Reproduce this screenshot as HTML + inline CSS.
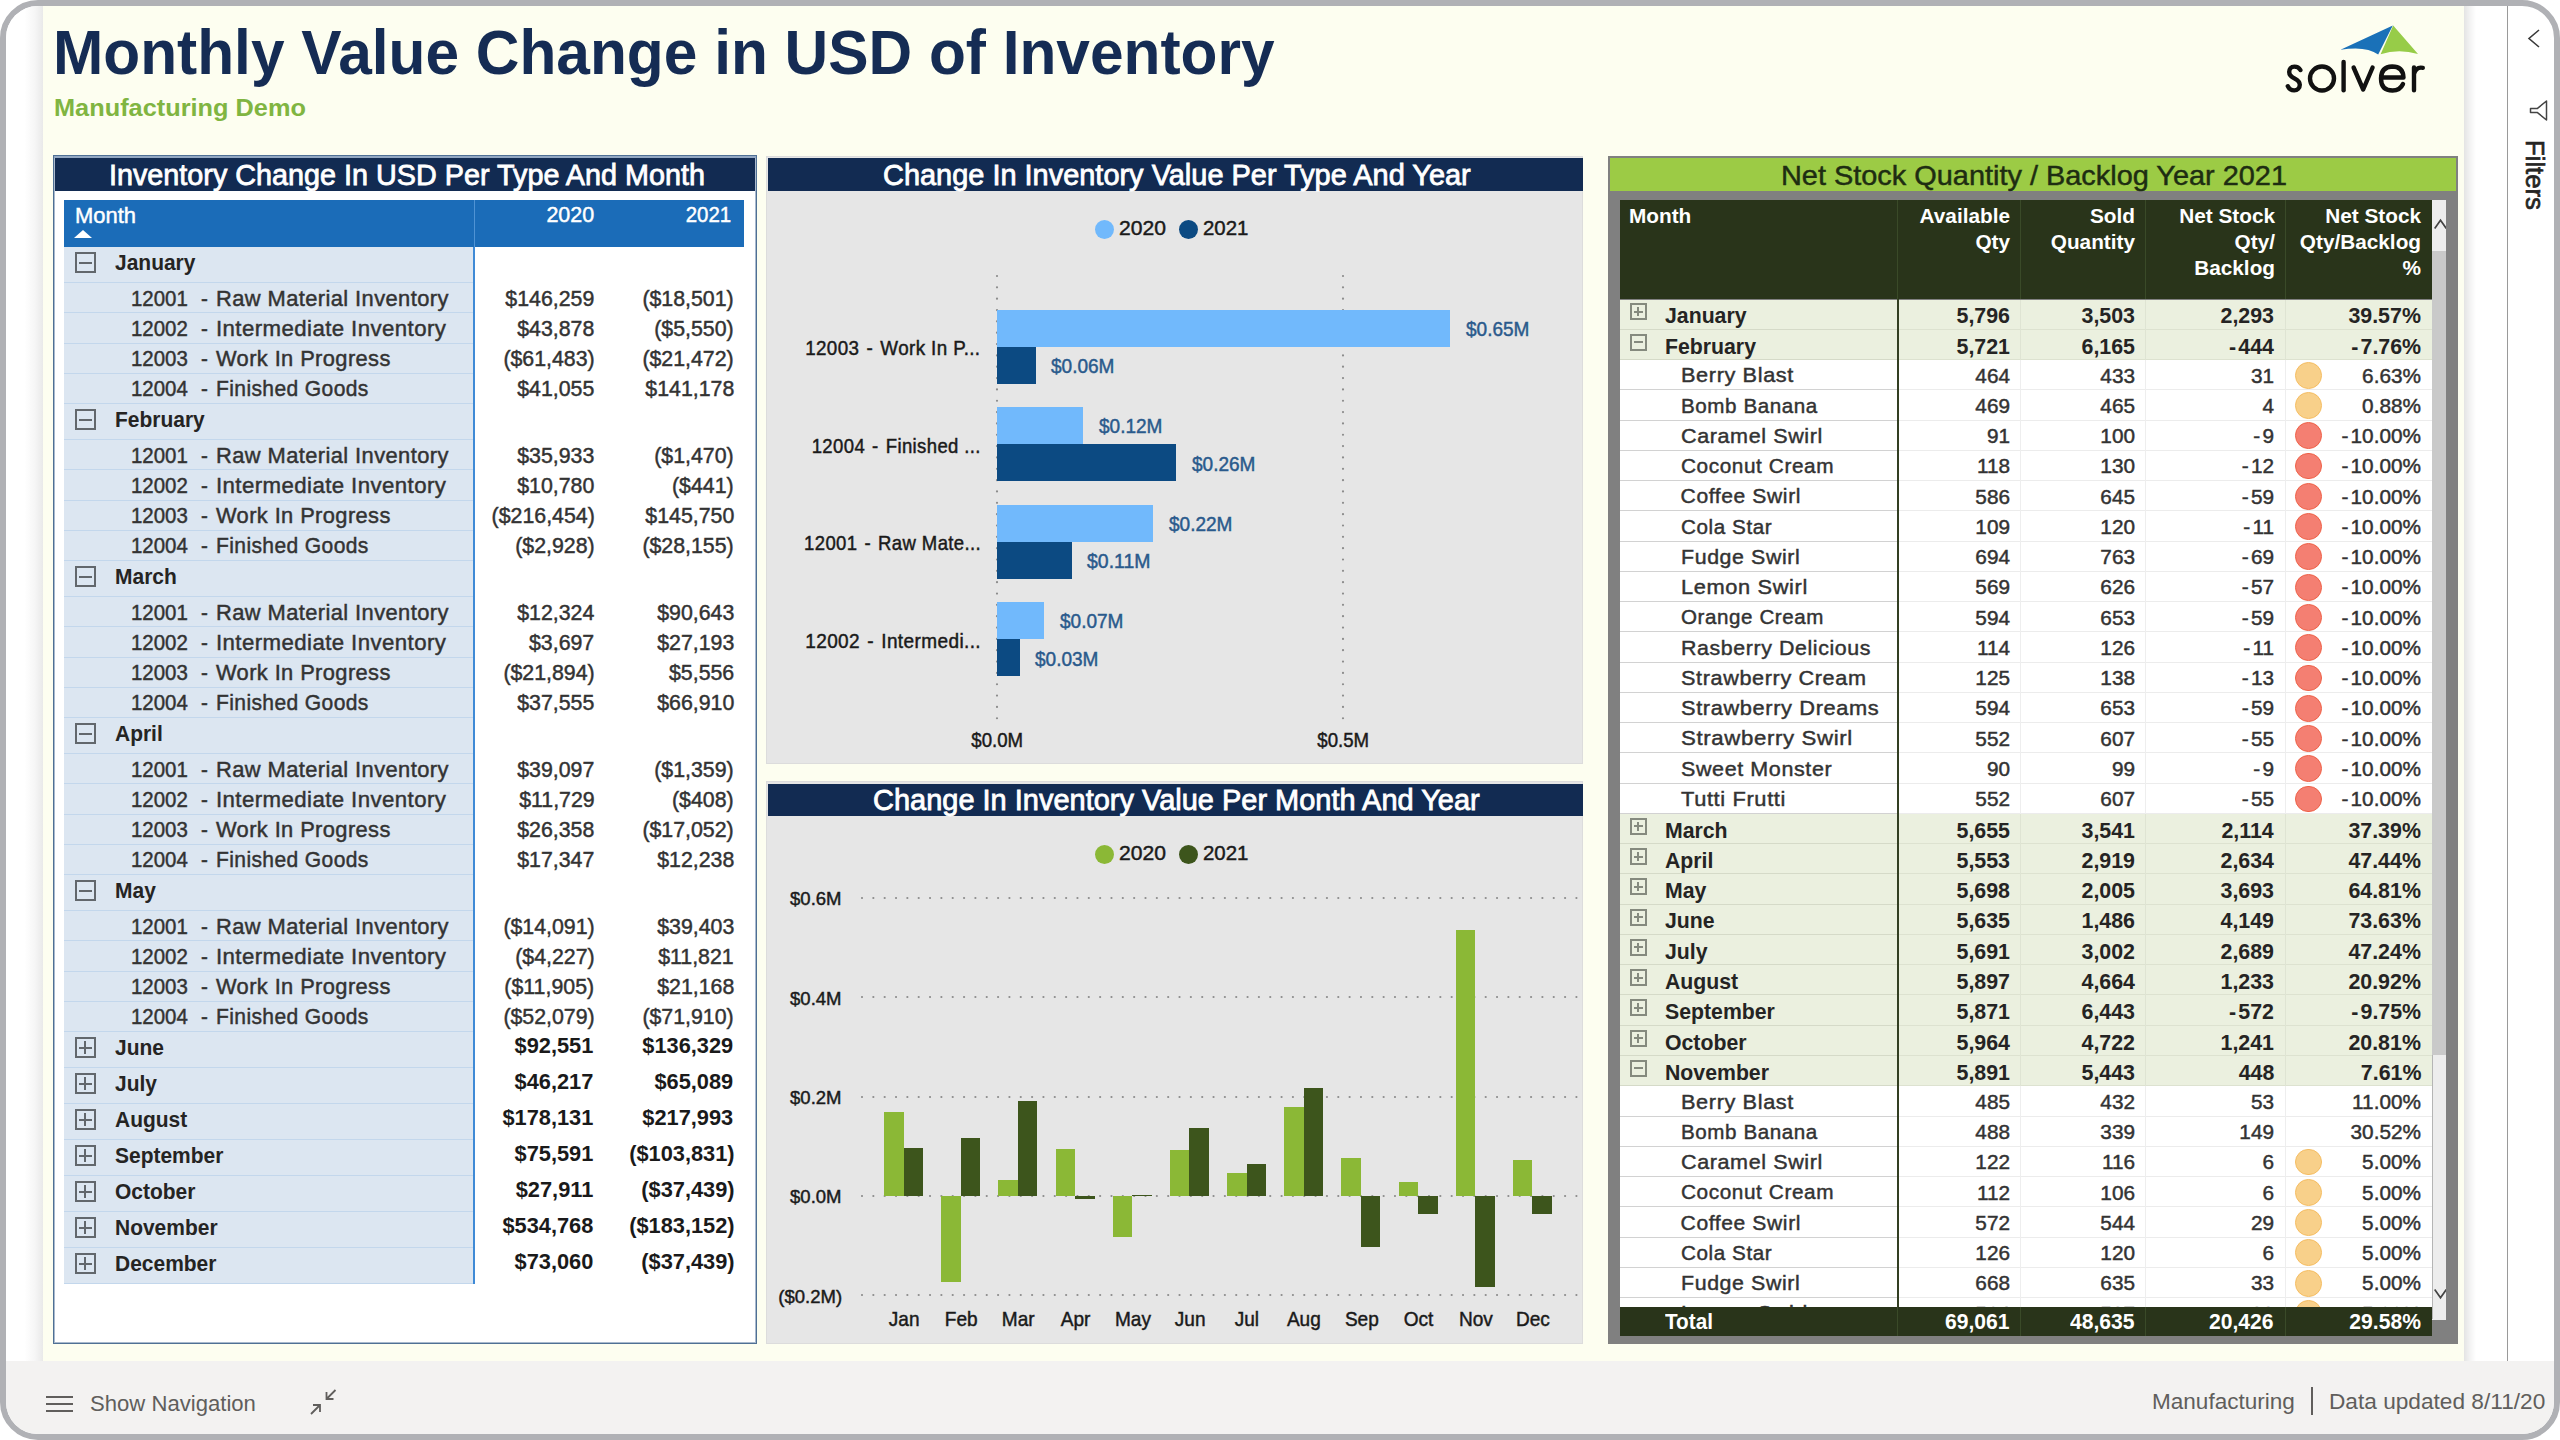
<!DOCTYPE html>
<html><head><meta charset="utf-8"><title>Monthly Value Change in USD of Inventory</title><style>html,body{margin:0;padding:0}
body{width:2560px;height:1440px;position:relative;overflow:hidden;background:#fff;font-family:"Liberation Sans",sans-serif}
#frame{position:absolute;left:0;top:0;width:2560px;height:1440px;box-sizing:border-box;border:6px solid #b0b1b5;border-radius:38px;overflow:hidden;background:#fff}
#c{position:absolute;left:-6px;top:-6px;width:2560px;height:1440px}
#c div,#c svg{position:absolute}
.t{white-space:nowrap;line-height:1}
</style></head><body><div id="frame"><div id="c">
<div style="left:43.00px;top:6.00px;width:2421.00px;height:1355.00px;background:#fdfef0;"></div>
<div style="left:6px;top:6px;width:37px;height:1355px;background:linear-gradient(90deg,#fff 0%,#fff 50%,#f6f6f6 78%,#e9e9e9 100%)"></div>
<div style="left:2464px;top:6px;width:12px;height:1355px;background:linear-gradient(90deg,#e4e4e4 0%,#f3f3f3 50%,#fff 100%)"></div>
<div style="left:2507.00px;top:6.00px;width:1.00px;height:1355.00px;background:#9a9a9a;"></div>
<div style="left:6.00px;top:1361.00px;width:2548.00px;height:73.00px;background:#f3f2f1;"></div>
<div class="t" style="top:21px;font-size:62.5px;color:#152c54;font-weight:bold;left:53.00px;transform:scaleX(0.9664);transform-origin:0 0;">Monthly Value Change in USD of Inventory</div>
<div class="t" style="top:97px;font-size:23.69px;color:#80b541;font-weight:bold;left:54.00px;transform:scaleX(1.0696);transform-origin:0 0;">Manufacturing Demo</div>
<div style="left:53px;top:155px;width:704px;height:1189px;background:#fff;border:1px solid #4f7094;box-sizing:border-box"></div>
<div style="left:54px;top:156px;width:702px;height:1187px;border:1px solid #a9b9cd;box-sizing:border-box"></div>
<div style="left:54.00px;top:156.00px;width:702.00px;height:2.00px;background:#93a8c3;"></div>
<div style="left:55.00px;top:158.00px;width:700.00px;height:32.60px;background:#122b52;"></div>
<div class="t" style="top:161px;font-size:28.78px;color:#fff;-webkit-text-stroke:0.8px #fff;left:109.00px;">Inventory Change In USD Per Type And Month</div>
<div style="left:64.00px;top:200.00px;width:679.50px;height:47.00px;background:#1b6cb8;"></div>
<div style="left:473.50px;top:200.00px;width:1.00px;height:47.00px;background:#4f93d4;"></div>
<div class="t" style="top:205px;font-size:21.66px;color:#fff;-webkit-text-stroke:0.45px #fff;left:74.50px;transform:scaleX(1.0133);transform-origin:0 0;">Month</div>
<div style="left:73.5px;top:230px;width:0;height:0;border-left:9px solid transparent;border-right:9px solid transparent;border-bottom:8.5px solid #fff"></div>
<div class="t" style="top:204px;font-size:21.66px;color:#fff;-webkit-text-stroke:0.45px #fff;right:1965.50px;transform:scaleX(0.9920);transform-origin:100% 0;">2020</div>
<div class="t" style="top:204px;font-size:21.66px;color:#fff;-webkit-text-stroke:0.45px #fff;right:1829.00px;transform:scaleX(0.9443);transform-origin:100% 0;">2021</div>
<div style="left:64.00px;top:247.00px;width:409.00px;height:1037.00px;background:#dce6f1;"></div>
<div style="left:472.50px;top:247.00px;width:2.00px;height:1037.00px;background:#3f8ad6;"></div>
<div style="left:64.00px;top:282.00px;width:408.50px;height:1.00px;background:#c3d7ec;"></div>
<div style="left:74.6px;top:252.0px;width:21.2px;height:21px;border:2px solid #62676c;box-sizing:border-box;"></div>
<div style="left:78.60px;top:261.50px;width:13.20px;height:2.00px;background:#62676c;"></div>
<div class="t" style="top:252px;font-size:21.8px;color:#252423;font-weight:bold;left:114.60px;transform:scaleX(0.9620);transform-origin:0 0;">January</div>
<div style="left:64.00px;top:312.25px;width:408.50px;height:1.00px;background:#c3d7ec;"></div>
<div class="t" style="top:288px;font-size:21.66px;color:#333;-webkit-text-stroke:0.45px #333;left:131.30px;transform:scaleX(0.9430);transform-origin:0 0;">12001</div>
<div class="t" style="top:288px;font-size:21.66px;color:#333;-webkit-text-stroke:0.45px #333;left:201.20px;transform:scaleX(0.9500);transform-origin:0 0;">-</div>
<div class="t" style="top:288px;font-size:21.66px;color:#333;-webkit-text-stroke:0.45px #333;letter-spacing:0.4px;left:216.20px;transform:scaleX(1.0109);transform-origin:0 0;">Raw Material Inventory</div>
<div class="t" style="top:288px;font-size:21.66px;color:#333;-webkit-text-stroke:0.45px #333;right:1965.70px;transform:scaleX(0.9850);transform-origin:100% 0;">$146,259</div>
<div class="t" style="top:288px;font-size:21.66px;color:#333;-webkit-text-stroke:0.45px #333;right:1826.00px;transform:scaleX(0.9850);transform-origin:100% 0;">($18,501)</div>
<div style="left:64.00px;top:342.50px;width:408.50px;height:1.00px;background:#c3d7ec;"></div>
<div class="t" style="top:318px;font-size:21.66px;color:#333;-webkit-text-stroke:0.45px #333;left:131.30px;transform:scaleX(0.9430);transform-origin:0 0;">12002</div>
<div class="t" style="top:318px;font-size:21.66px;color:#333;-webkit-text-stroke:0.45px #333;left:201.20px;transform:scaleX(0.9500);transform-origin:0 0;">-</div>
<div class="t" style="top:318px;font-size:21.66px;color:#333;-webkit-text-stroke:0.45px #333;letter-spacing:0.4px;left:216.20px;transform:scaleX(1.0267);transform-origin:0 0;">Intermediate Inventory</div>
<div class="t" style="top:318px;font-size:21.66px;color:#333;-webkit-text-stroke:0.45px #333;right:1965.70px;transform:scaleX(0.9850);transform-origin:100% 0;">$43,878</div>
<div class="t" style="top:318px;font-size:21.66px;color:#333;-webkit-text-stroke:0.45px #333;right:1826.00px;transform:scaleX(0.9850);transform-origin:100% 0;">($5,550)</div>
<div style="left:64.00px;top:372.75px;width:408.50px;height:1.00px;background:#c3d7ec;"></div>
<div class="t" style="top:348px;font-size:21.66px;color:#333;-webkit-text-stroke:0.45px #333;left:131.30px;transform:scaleX(0.9430);transform-origin:0 0;">12003</div>
<div class="t" style="top:348px;font-size:21.66px;color:#333;-webkit-text-stroke:0.45px #333;left:201.20px;transform:scaleX(0.9500);transform-origin:0 0;">-</div>
<div class="t" style="top:348px;font-size:21.66px;color:#333;-webkit-text-stroke:0.45px #333;letter-spacing:0.4px;left:216.20px;transform:scaleX(1.0086);transform-origin:0 0;">Work In Progress</div>
<div class="t" style="top:348px;font-size:21.66px;color:#333;-webkit-text-stroke:0.45px #333;right:1965.70px;transform:scaleX(0.9850);transform-origin:100% 0;">($61,483)</div>
<div class="t" style="top:348px;font-size:21.66px;color:#333;-webkit-text-stroke:0.45px #333;right:1826.00px;transform:scaleX(0.9850);transform-origin:100% 0;">($21,472)</div>
<div style="left:64.00px;top:403.00px;width:408.50px;height:1.00px;background:#c3d7ec;"></div>
<div class="t" style="top:378px;font-size:21.66px;color:#333;-webkit-text-stroke:0.45px #333;left:131.30px;transform:scaleX(0.9430);transform-origin:0 0;">12004</div>
<div class="t" style="top:378px;font-size:21.66px;color:#333;-webkit-text-stroke:0.45px #333;left:201.20px;transform:scaleX(0.9500);transform-origin:0 0;">-</div>
<div class="t" style="top:378px;font-size:21.66px;color:#333;-webkit-text-stroke:0.45px #333;letter-spacing:0.4px;left:216.20px;transform:scaleX(0.9714);transform-origin:0 0;">Finished Goods</div>
<div class="t" style="top:378px;font-size:21.66px;color:#333;-webkit-text-stroke:0.45px #333;right:1965.70px;transform:scaleX(0.9850);transform-origin:100% 0;">$41,055</div>
<div class="t" style="top:378px;font-size:21.66px;color:#333;-webkit-text-stroke:0.45px #333;right:1826.00px;transform:scaleX(0.9850);transform-origin:100% 0;">$141,178</div>
<div style="left:64.00px;top:439.00px;width:408.50px;height:1.00px;background:#c3d7ec;"></div>
<div style="left:74.6px;top:409.0px;width:21.2px;height:21px;border:2px solid #62676c;box-sizing:border-box;"></div>
<div style="left:78.60px;top:418.50px;width:13.20px;height:2.00px;background:#62676c;"></div>
<div class="t" style="top:409px;font-size:21.8px;color:#252423;font-weight:bold;left:114.60px;transform:scaleX(0.9620);transform-origin:0 0;">February</div>
<div style="left:64.00px;top:469.25px;width:408.50px;height:1.00px;background:#c3d7ec;"></div>
<div class="t" style="top:445px;font-size:21.66px;color:#333;-webkit-text-stroke:0.45px #333;left:131.30px;transform:scaleX(0.9430);transform-origin:0 0;">12001</div>
<div class="t" style="top:445px;font-size:21.66px;color:#333;-webkit-text-stroke:0.45px #333;left:201.20px;transform:scaleX(0.9500);transform-origin:0 0;">-</div>
<div class="t" style="top:445px;font-size:21.66px;color:#333;-webkit-text-stroke:0.45px #333;letter-spacing:0.4px;left:216.20px;transform:scaleX(1.0109);transform-origin:0 0;">Raw Material Inventory</div>
<div class="t" style="top:445px;font-size:21.66px;color:#333;-webkit-text-stroke:0.45px #333;right:1965.70px;transform:scaleX(0.9850);transform-origin:100% 0;">$35,933</div>
<div class="t" style="top:445px;font-size:21.66px;color:#333;-webkit-text-stroke:0.45px #333;right:1826.00px;transform:scaleX(0.9850);transform-origin:100% 0;">($1,470)</div>
<div style="left:64.00px;top:499.50px;width:408.50px;height:1.00px;background:#c3d7ec;"></div>
<div class="t" style="top:475px;font-size:21.66px;color:#333;-webkit-text-stroke:0.45px #333;left:131.30px;transform:scaleX(0.9430);transform-origin:0 0;">12002</div>
<div class="t" style="top:475px;font-size:21.66px;color:#333;-webkit-text-stroke:0.45px #333;left:201.20px;transform:scaleX(0.9500);transform-origin:0 0;">-</div>
<div class="t" style="top:475px;font-size:21.66px;color:#333;-webkit-text-stroke:0.45px #333;letter-spacing:0.4px;left:216.20px;transform:scaleX(1.0267);transform-origin:0 0;">Intermediate Inventory</div>
<div class="t" style="top:475px;font-size:21.66px;color:#333;-webkit-text-stroke:0.45px #333;right:1965.70px;transform:scaleX(0.9850);transform-origin:100% 0;">$10,780</div>
<div class="t" style="top:475px;font-size:21.66px;color:#333;-webkit-text-stroke:0.45px #333;right:1826.00px;transform:scaleX(0.9850);transform-origin:100% 0;">($441)</div>
<div style="left:64.00px;top:529.75px;width:408.50px;height:1.00px;background:#c3d7ec;"></div>
<div class="t" style="top:505px;font-size:21.66px;color:#333;-webkit-text-stroke:0.45px #333;left:131.30px;transform:scaleX(0.9430);transform-origin:0 0;">12003</div>
<div class="t" style="top:505px;font-size:21.66px;color:#333;-webkit-text-stroke:0.45px #333;left:201.20px;transform:scaleX(0.9500);transform-origin:0 0;">-</div>
<div class="t" style="top:505px;font-size:21.66px;color:#333;-webkit-text-stroke:0.45px #333;letter-spacing:0.4px;left:216.20px;transform:scaleX(1.0086);transform-origin:0 0;">Work In Progress</div>
<div class="t" style="top:505px;font-size:21.66px;color:#333;-webkit-text-stroke:0.45px #333;right:1965.70px;transform:scaleX(0.9850);transform-origin:100% 0;">($216,454)</div>
<div class="t" style="top:505px;font-size:21.66px;color:#333;-webkit-text-stroke:0.45px #333;right:1826.00px;transform:scaleX(0.9850);transform-origin:100% 0;">$145,750</div>
<div style="left:64.00px;top:560.00px;width:408.50px;height:1.00px;background:#c3d7ec;"></div>
<div class="t" style="top:535px;font-size:21.66px;color:#333;-webkit-text-stroke:0.45px #333;left:131.30px;transform:scaleX(0.9430);transform-origin:0 0;">12004</div>
<div class="t" style="top:535px;font-size:21.66px;color:#333;-webkit-text-stroke:0.45px #333;left:201.20px;transform:scaleX(0.9500);transform-origin:0 0;">-</div>
<div class="t" style="top:535px;font-size:21.66px;color:#333;-webkit-text-stroke:0.45px #333;letter-spacing:0.4px;left:216.20px;transform:scaleX(0.9714);transform-origin:0 0;">Finished Goods</div>
<div class="t" style="top:535px;font-size:21.66px;color:#333;-webkit-text-stroke:0.45px #333;right:1965.70px;transform:scaleX(0.9850);transform-origin:100% 0;">($2,928)</div>
<div class="t" style="top:535px;font-size:21.66px;color:#333;-webkit-text-stroke:0.45px #333;right:1826.00px;transform:scaleX(0.9850);transform-origin:100% 0;">($28,155)</div>
<div style="left:64.00px;top:596.00px;width:408.50px;height:1.00px;background:#c3d7ec;"></div>
<div style="left:74.6px;top:566.0px;width:21.2px;height:21px;border:2px solid #62676c;box-sizing:border-box;"></div>
<div style="left:78.60px;top:575.50px;width:13.20px;height:2.00px;background:#62676c;"></div>
<div class="t" style="top:566px;font-size:21.8px;color:#252423;font-weight:bold;left:114.60px;transform:scaleX(0.9620);transform-origin:0 0;">March</div>
<div style="left:64.00px;top:626.25px;width:408.50px;height:1.00px;background:#c3d7ec;"></div>
<div class="t" style="top:602px;font-size:21.66px;color:#333;-webkit-text-stroke:0.45px #333;left:131.30px;transform:scaleX(0.9430);transform-origin:0 0;">12001</div>
<div class="t" style="top:602px;font-size:21.66px;color:#333;-webkit-text-stroke:0.45px #333;left:201.20px;transform:scaleX(0.9500);transform-origin:0 0;">-</div>
<div class="t" style="top:602px;font-size:21.66px;color:#333;-webkit-text-stroke:0.45px #333;letter-spacing:0.4px;left:216.20px;transform:scaleX(1.0109);transform-origin:0 0;">Raw Material Inventory</div>
<div class="t" style="top:602px;font-size:21.66px;color:#333;-webkit-text-stroke:0.45px #333;right:1965.70px;transform:scaleX(0.9850);transform-origin:100% 0;">$12,324</div>
<div class="t" style="top:602px;font-size:21.66px;color:#333;-webkit-text-stroke:0.45px #333;right:1826.00px;transform:scaleX(0.9850);transform-origin:100% 0;">$90,643</div>
<div style="left:64.00px;top:656.50px;width:408.50px;height:1.00px;background:#c3d7ec;"></div>
<div class="t" style="top:632px;font-size:21.66px;color:#333;-webkit-text-stroke:0.45px #333;left:131.30px;transform:scaleX(0.9430);transform-origin:0 0;">12002</div>
<div class="t" style="top:632px;font-size:21.66px;color:#333;-webkit-text-stroke:0.45px #333;left:201.20px;transform:scaleX(0.9500);transform-origin:0 0;">-</div>
<div class="t" style="top:632px;font-size:21.66px;color:#333;-webkit-text-stroke:0.45px #333;letter-spacing:0.4px;left:216.20px;transform:scaleX(1.0267);transform-origin:0 0;">Intermediate Inventory</div>
<div class="t" style="top:632px;font-size:21.66px;color:#333;-webkit-text-stroke:0.45px #333;right:1965.70px;transform:scaleX(0.9850);transform-origin:100% 0;">$3,697</div>
<div class="t" style="top:632px;font-size:21.66px;color:#333;-webkit-text-stroke:0.45px #333;right:1826.00px;transform:scaleX(0.9850);transform-origin:100% 0;">$27,193</div>
<div style="left:64.00px;top:686.75px;width:408.50px;height:1.00px;background:#c3d7ec;"></div>
<div class="t" style="top:662px;font-size:21.66px;color:#333;-webkit-text-stroke:0.45px #333;left:131.30px;transform:scaleX(0.9430);transform-origin:0 0;">12003</div>
<div class="t" style="top:662px;font-size:21.66px;color:#333;-webkit-text-stroke:0.45px #333;left:201.20px;transform:scaleX(0.9500);transform-origin:0 0;">-</div>
<div class="t" style="top:662px;font-size:21.66px;color:#333;-webkit-text-stroke:0.45px #333;letter-spacing:0.4px;left:216.20px;transform:scaleX(1.0086);transform-origin:0 0;">Work In Progress</div>
<div class="t" style="top:662px;font-size:21.66px;color:#333;-webkit-text-stroke:0.45px #333;right:1965.70px;transform:scaleX(0.9850);transform-origin:100% 0;">($21,894)</div>
<div class="t" style="top:662px;font-size:21.66px;color:#333;-webkit-text-stroke:0.45px #333;right:1826.00px;transform:scaleX(0.9850);transform-origin:100% 0;">$5,556</div>
<div style="left:64.00px;top:717.00px;width:408.50px;height:1.00px;background:#c3d7ec;"></div>
<div class="t" style="top:692px;font-size:21.66px;color:#333;-webkit-text-stroke:0.45px #333;left:131.30px;transform:scaleX(0.9430);transform-origin:0 0;">12004</div>
<div class="t" style="top:692px;font-size:21.66px;color:#333;-webkit-text-stroke:0.45px #333;left:201.20px;transform:scaleX(0.9500);transform-origin:0 0;">-</div>
<div class="t" style="top:692px;font-size:21.66px;color:#333;-webkit-text-stroke:0.45px #333;letter-spacing:0.4px;left:216.20px;transform:scaleX(0.9714);transform-origin:0 0;">Finished Goods</div>
<div class="t" style="top:692px;font-size:21.66px;color:#333;-webkit-text-stroke:0.45px #333;right:1965.70px;transform:scaleX(0.9850);transform-origin:100% 0;">$37,555</div>
<div class="t" style="top:692px;font-size:21.66px;color:#333;-webkit-text-stroke:0.45px #333;right:1826.00px;transform:scaleX(0.9850);transform-origin:100% 0;">$66,910</div>
<div style="left:64.00px;top:753.00px;width:408.50px;height:1.00px;background:#c3d7ec;"></div>
<div style="left:74.6px;top:723.0px;width:21.2px;height:21px;border:2px solid #62676c;box-sizing:border-box;"></div>
<div style="left:78.60px;top:732.50px;width:13.20px;height:2.00px;background:#62676c;"></div>
<div class="t" style="top:723px;font-size:21.8px;color:#252423;font-weight:bold;left:114.60px;transform:scaleX(0.9620);transform-origin:0 0;">April</div>
<div style="left:64.00px;top:783.25px;width:408.50px;height:1.00px;background:#c3d7ec;"></div>
<div class="t" style="top:759px;font-size:21.66px;color:#333;-webkit-text-stroke:0.45px #333;left:131.30px;transform:scaleX(0.9430);transform-origin:0 0;">12001</div>
<div class="t" style="top:759px;font-size:21.66px;color:#333;-webkit-text-stroke:0.45px #333;left:201.20px;transform:scaleX(0.9500);transform-origin:0 0;">-</div>
<div class="t" style="top:759px;font-size:21.66px;color:#333;-webkit-text-stroke:0.45px #333;letter-spacing:0.4px;left:216.20px;transform:scaleX(1.0109);transform-origin:0 0;">Raw Material Inventory</div>
<div class="t" style="top:759px;font-size:21.66px;color:#333;-webkit-text-stroke:0.45px #333;right:1965.70px;transform:scaleX(0.9850);transform-origin:100% 0;">$39,097</div>
<div class="t" style="top:759px;font-size:21.66px;color:#333;-webkit-text-stroke:0.45px #333;right:1826.00px;transform:scaleX(0.9850);transform-origin:100% 0;">($1,359)</div>
<div style="left:64.00px;top:813.50px;width:408.50px;height:1.00px;background:#c3d7ec;"></div>
<div class="t" style="top:789px;font-size:21.66px;color:#333;-webkit-text-stroke:0.45px #333;left:131.30px;transform:scaleX(0.9430);transform-origin:0 0;">12002</div>
<div class="t" style="top:789px;font-size:21.66px;color:#333;-webkit-text-stroke:0.45px #333;left:201.20px;transform:scaleX(0.9500);transform-origin:0 0;">-</div>
<div class="t" style="top:789px;font-size:21.66px;color:#333;-webkit-text-stroke:0.45px #333;letter-spacing:0.4px;left:216.20px;transform:scaleX(1.0267);transform-origin:0 0;">Intermediate Inventory</div>
<div class="t" style="top:789px;font-size:21.66px;color:#333;-webkit-text-stroke:0.45px #333;right:1965.70px;transform:scaleX(0.9850);transform-origin:100% 0;">$11,729</div>
<div class="t" style="top:789px;font-size:21.66px;color:#333;-webkit-text-stroke:0.45px #333;right:1826.00px;transform:scaleX(0.9850);transform-origin:100% 0;">($408)</div>
<div style="left:64.00px;top:843.75px;width:408.50px;height:1.00px;background:#c3d7ec;"></div>
<div class="t" style="top:819px;font-size:21.66px;color:#333;-webkit-text-stroke:0.45px #333;left:131.30px;transform:scaleX(0.9430);transform-origin:0 0;">12003</div>
<div class="t" style="top:819px;font-size:21.66px;color:#333;-webkit-text-stroke:0.45px #333;left:201.20px;transform:scaleX(0.9500);transform-origin:0 0;">-</div>
<div class="t" style="top:819px;font-size:21.66px;color:#333;-webkit-text-stroke:0.45px #333;letter-spacing:0.4px;left:216.20px;transform:scaleX(1.0086);transform-origin:0 0;">Work In Progress</div>
<div class="t" style="top:819px;font-size:21.66px;color:#333;-webkit-text-stroke:0.45px #333;right:1965.70px;transform:scaleX(0.9850);transform-origin:100% 0;">$26,358</div>
<div class="t" style="top:819px;font-size:21.66px;color:#333;-webkit-text-stroke:0.45px #333;right:1826.00px;transform:scaleX(0.9850);transform-origin:100% 0;">($17,052)</div>
<div style="left:64.00px;top:874.00px;width:408.50px;height:1.00px;background:#c3d7ec;"></div>
<div class="t" style="top:849px;font-size:21.66px;color:#333;-webkit-text-stroke:0.45px #333;left:131.30px;transform:scaleX(0.9430);transform-origin:0 0;">12004</div>
<div class="t" style="top:849px;font-size:21.66px;color:#333;-webkit-text-stroke:0.45px #333;left:201.20px;transform:scaleX(0.9500);transform-origin:0 0;">-</div>
<div class="t" style="top:849px;font-size:21.66px;color:#333;-webkit-text-stroke:0.45px #333;letter-spacing:0.4px;left:216.20px;transform:scaleX(0.9714);transform-origin:0 0;">Finished Goods</div>
<div class="t" style="top:849px;font-size:21.66px;color:#333;-webkit-text-stroke:0.45px #333;right:1965.70px;transform:scaleX(0.9850);transform-origin:100% 0;">$17,347</div>
<div class="t" style="top:849px;font-size:21.66px;color:#333;-webkit-text-stroke:0.45px #333;right:1826.00px;transform:scaleX(0.9850);transform-origin:100% 0;">$12,238</div>
<div style="left:64.00px;top:910.00px;width:408.50px;height:1.00px;background:#c3d7ec;"></div>
<div style="left:74.6px;top:880.0px;width:21.2px;height:21px;border:2px solid #62676c;box-sizing:border-box;"></div>
<div style="left:78.60px;top:889.50px;width:13.20px;height:2.00px;background:#62676c;"></div>
<div class="t" style="top:880px;font-size:21.8px;color:#252423;font-weight:bold;left:114.60px;transform:scaleX(0.9620);transform-origin:0 0;">May</div>
<div style="left:64.00px;top:940.25px;width:408.50px;height:1.00px;background:#c3d7ec;"></div>
<div class="t" style="top:916px;font-size:21.66px;color:#333;-webkit-text-stroke:0.45px #333;left:131.30px;transform:scaleX(0.9430);transform-origin:0 0;">12001</div>
<div class="t" style="top:916px;font-size:21.66px;color:#333;-webkit-text-stroke:0.45px #333;left:201.20px;transform:scaleX(0.9500);transform-origin:0 0;">-</div>
<div class="t" style="top:916px;font-size:21.66px;color:#333;-webkit-text-stroke:0.45px #333;letter-spacing:0.4px;left:216.20px;transform:scaleX(1.0109);transform-origin:0 0;">Raw Material Inventory</div>
<div class="t" style="top:916px;font-size:21.66px;color:#333;-webkit-text-stroke:0.45px #333;right:1965.70px;transform:scaleX(0.9850);transform-origin:100% 0;">($14,091)</div>
<div class="t" style="top:916px;font-size:21.66px;color:#333;-webkit-text-stroke:0.45px #333;right:1826.00px;transform:scaleX(0.9850);transform-origin:100% 0;">$39,403</div>
<div style="left:64.00px;top:970.50px;width:408.50px;height:1.00px;background:#c3d7ec;"></div>
<div class="t" style="top:946px;font-size:21.66px;color:#333;-webkit-text-stroke:0.45px #333;left:131.30px;transform:scaleX(0.9430);transform-origin:0 0;">12002</div>
<div class="t" style="top:946px;font-size:21.66px;color:#333;-webkit-text-stroke:0.45px #333;left:201.20px;transform:scaleX(0.9500);transform-origin:0 0;">-</div>
<div class="t" style="top:946px;font-size:21.66px;color:#333;-webkit-text-stroke:0.45px #333;letter-spacing:0.4px;left:216.20px;transform:scaleX(1.0267);transform-origin:0 0;">Intermediate Inventory</div>
<div class="t" style="top:946px;font-size:21.66px;color:#333;-webkit-text-stroke:0.45px #333;right:1965.70px;transform:scaleX(0.9850);transform-origin:100% 0;">($4,227)</div>
<div class="t" style="top:946px;font-size:21.66px;color:#333;-webkit-text-stroke:0.45px #333;right:1826.00px;transform:scaleX(0.9850);transform-origin:100% 0;">$11,821</div>
<div style="left:64.00px;top:1000.75px;width:408.50px;height:1.00px;background:#c3d7ec;"></div>
<div class="t" style="top:976px;font-size:21.66px;color:#333;-webkit-text-stroke:0.45px #333;left:131.30px;transform:scaleX(0.9430);transform-origin:0 0;">12003</div>
<div class="t" style="top:976px;font-size:21.66px;color:#333;-webkit-text-stroke:0.45px #333;left:201.20px;transform:scaleX(0.9500);transform-origin:0 0;">-</div>
<div class="t" style="top:976px;font-size:21.66px;color:#333;-webkit-text-stroke:0.45px #333;letter-spacing:0.4px;left:216.20px;transform:scaleX(1.0086);transform-origin:0 0;">Work In Progress</div>
<div class="t" style="top:976px;font-size:21.66px;color:#333;-webkit-text-stroke:0.45px #333;right:1965.70px;transform:scaleX(0.9850);transform-origin:100% 0;">($11,905)</div>
<div class="t" style="top:976px;font-size:21.66px;color:#333;-webkit-text-stroke:0.45px #333;right:1826.00px;transform:scaleX(0.9850);transform-origin:100% 0;">$21,168</div>
<div style="left:64.00px;top:1031.00px;width:408.50px;height:1.00px;background:#c3d7ec;"></div>
<div class="t" style="top:1006px;font-size:21.66px;color:#333;-webkit-text-stroke:0.45px #333;left:131.30px;transform:scaleX(0.9430);transform-origin:0 0;">12004</div>
<div class="t" style="top:1006px;font-size:21.66px;color:#333;-webkit-text-stroke:0.45px #333;left:201.20px;transform:scaleX(0.9500);transform-origin:0 0;">-</div>
<div class="t" style="top:1006px;font-size:21.66px;color:#333;-webkit-text-stroke:0.45px #333;letter-spacing:0.4px;left:216.20px;transform:scaleX(0.9714);transform-origin:0 0;">Finished Goods</div>
<div class="t" style="top:1006px;font-size:21.66px;color:#333;-webkit-text-stroke:0.45px #333;right:1965.70px;transform:scaleX(0.9850);transform-origin:100% 0;">($52,079)</div>
<div class="t" style="top:1006px;font-size:21.66px;color:#333;-webkit-text-stroke:0.45px #333;right:1826.00px;transform:scaleX(0.9850);transform-origin:100% 0;">($71,910)</div>
<div style="left:64.00px;top:1067.00px;width:408.50px;height:1.00px;background:#c3d7ec;"></div>
<div style="left:74.6px;top:1037.0px;width:21.2px;height:21px;border:2px solid #62676c;box-sizing:border-box;"></div>
<div style="left:78.60px;top:1046.50px;width:13.20px;height:2.00px;background:#62676c;"></div>
<div style="left:84.20px;top:1040.90px;width:2.00px;height:13.20px;background:#62676c;"></div>
<div class="t" style="top:1037px;font-size:21.8px;color:#252423;font-weight:bold;left:114.60px;transform:scaleX(0.9620);transform-origin:0 0;">June</div>
<div class="t" style="top:1035px;font-size:21.8px;color:#1a1a1a;font-weight:bold;right:1966.70px;">$92,551</div>
<div class="t" style="top:1035px;font-size:21.8px;color:#1a1a1a;font-weight:bold;right:1826.80px;">$136,329</div>
<div style="left:64.00px;top:1103.00px;width:408.50px;height:1.00px;background:#c3d7ec;"></div>
<div style="left:74.6px;top:1073.0px;width:21.2px;height:21px;border:2px solid #62676c;box-sizing:border-box;"></div>
<div style="left:78.60px;top:1082.50px;width:13.20px;height:2.00px;background:#62676c;"></div>
<div style="left:84.20px;top:1076.90px;width:2.00px;height:13.20px;background:#62676c;"></div>
<div class="t" style="top:1073px;font-size:21.8px;color:#252423;font-weight:bold;left:114.60px;transform:scaleX(0.9620);transform-origin:0 0;">July</div>
<div class="t" style="top:1071px;font-size:21.8px;color:#1a1a1a;font-weight:bold;right:1966.70px;">$46,217</div>
<div class="t" style="top:1071px;font-size:21.8px;color:#1a1a1a;font-weight:bold;right:1826.80px;">$65,089</div>
<div style="left:64.00px;top:1139.00px;width:408.50px;height:1.00px;background:#c3d7ec;"></div>
<div style="left:74.6px;top:1109.0px;width:21.2px;height:21px;border:2px solid #62676c;box-sizing:border-box;"></div>
<div style="left:78.60px;top:1118.50px;width:13.20px;height:2.00px;background:#62676c;"></div>
<div style="left:84.20px;top:1112.90px;width:2.00px;height:13.20px;background:#62676c;"></div>
<div class="t" style="top:1109px;font-size:21.8px;color:#252423;font-weight:bold;left:114.60px;transform:scaleX(0.9620);transform-origin:0 0;">August</div>
<div class="t" style="top:1107px;font-size:21.8px;color:#1a1a1a;font-weight:bold;right:1966.70px;">$178,131</div>
<div class="t" style="top:1107px;font-size:21.8px;color:#1a1a1a;font-weight:bold;right:1826.80px;">$217,993</div>
<div style="left:64.00px;top:1175.00px;width:408.50px;height:1.00px;background:#c3d7ec;"></div>
<div style="left:74.6px;top:1145.0px;width:21.2px;height:21px;border:2px solid #62676c;box-sizing:border-box;"></div>
<div style="left:78.60px;top:1154.50px;width:13.20px;height:2.00px;background:#62676c;"></div>
<div style="left:84.20px;top:1148.90px;width:2.00px;height:13.20px;background:#62676c;"></div>
<div class="t" style="top:1145px;font-size:21.8px;color:#252423;font-weight:bold;left:114.60px;transform:scaleX(0.9620);transform-origin:0 0;">September</div>
<div class="t" style="top:1143px;font-size:21.8px;color:#1a1a1a;font-weight:bold;right:1966.70px;">$75,591</div>
<div class="t" style="top:1143px;font-size:21.8px;color:#1a1a1a;font-weight:bold;right:1825.40px;">($103,831)</div>
<div style="left:64.00px;top:1211.00px;width:408.50px;height:1.00px;background:#c3d7ec;"></div>
<div style="left:74.6px;top:1181.0px;width:21.2px;height:21px;border:2px solid #62676c;box-sizing:border-box;"></div>
<div style="left:78.60px;top:1190.50px;width:13.20px;height:2.00px;background:#62676c;"></div>
<div style="left:84.20px;top:1184.90px;width:2.00px;height:13.20px;background:#62676c;"></div>
<div class="t" style="top:1181px;font-size:21.8px;color:#252423;font-weight:bold;left:114.60px;transform:scaleX(0.9620);transform-origin:0 0;">October</div>
<div class="t" style="top:1179px;font-size:21.8px;color:#1a1a1a;font-weight:bold;right:1966.70px;">$27,911</div>
<div class="t" style="top:1179px;font-size:21.8px;color:#1a1a1a;font-weight:bold;right:1825.40px;">($37,439)</div>
<div style="left:64.00px;top:1247.00px;width:408.50px;height:1.00px;background:#c3d7ec;"></div>
<div style="left:74.6px;top:1217.0px;width:21.2px;height:21px;border:2px solid #62676c;box-sizing:border-box;"></div>
<div style="left:78.60px;top:1226.50px;width:13.20px;height:2.00px;background:#62676c;"></div>
<div style="left:84.20px;top:1220.90px;width:2.00px;height:13.20px;background:#62676c;"></div>
<div class="t" style="top:1217px;font-size:21.8px;color:#252423;font-weight:bold;left:114.60px;transform:scaleX(0.9620);transform-origin:0 0;">November</div>
<div class="t" style="top:1215px;font-size:21.8px;color:#1a1a1a;font-weight:bold;right:1966.70px;">$534,768</div>
<div class="t" style="top:1215px;font-size:21.8px;color:#1a1a1a;font-weight:bold;right:1825.40px;">($183,152)</div>
<div style="left:64.00px;top:1283.00px;width:408.50px;height:1.00px;background:#c3d7ec;"></div>
<div style="left:74.6px;top:1253.0px;width:21.2px;height:21px;border:2px solid #62676c;box-sizing:border-box;"></div>
<div style="left:78.60px;top:1262.50px;width:13.20px;height:2.00px;background:#62676c;"></div>
<div style="left:84.20px;top:1256.90px;width:2.00px;height:13.20px;background:#62676c;"></div>
<div class="t" style="top:1253px;font-size:21.8px;color:#252423;font-weight:bold;left:114.60px;transform:scaleX(0.9620);transform-origin:0 0;">December</div>
<div class="t" style="top:1251px;font-size:21.8px;color:#1a1a1a;font-weight:bold;right:1966.70px;">$73,060</div>
<div class="t" style="top:1251px;font-size:21.8px;color:#1a1a1a;font-weight:bold;right:1825.40px;">($37,439)</div>
<div style="left:766px;top:156px;width:816.5px;height:607.5px;background:#e6e6e6;border:1px solid #dcdcdc;box-sizing:border-box"></div>
<div style="left:768.00px;top:158.00px;width:814.50px;height:32.50px;background:#122b52;"></div>
<div class="t" style="top:161px;font-size:28.78px;color:#fff;-webkit-text-stroke:0.8px #fff;left:882.50px;transform:scaleX(1.0059);transform-origin:0 0;">Change In Inventory Value Per Type And Year</div>
<div style="left:1094.50px;top:219.50px;width:19px;height:19px;border-radius:50%;background:#71b9fc;"></div>
<div class="t" style="top:218px;font-size:20.93px;color:#1a1a1a;-webkit-text-stroke:0.45px #1a1a1a;left:1118.50px;transform:scaleX(1.0094);transform-origin:0 0;">2020</div>
<div style="left:1178.50px;top:219.50px;width:19px;height:19px;border-radius:50%;background:#0c4a82;"></div>
<div class="t" style="top:218px;font-size:20.93px;color:#1a1a1a;-webkit-text-stroke:0.45px #1a1a1a;left:1203.00px;transform:scaleX(0.9772);transform-origin:0 0;">2021</div>
<svg style="left:995.3px;top:273.6px" width="4" height="446.4"><line x1="2" y1="2" x2="2" y2="444.4" stroke="#8c8c8c" stroke-width="2.2" stroke-dasharray="0.01 11.33" stroke-linecap="round"/></svg>
<svg style="left:1341.2px;top:273.6px" width="4" height="446.4"><line x1="2" y1="2" x2="2" y2="444.4" stroke="#8c8c8c" stroke-width="2.2" stroke-dasharray="0.01 11.33" stroke-linecap="round"/></svg>
<div style="left:997.00px;top:309.75px;width:453.00px;height:37.10px;background:#71b9fc;"></div>
<div style="left:997.00px;top:346.85px;width:38.60px;height:37.15px;background:#0c4a82;"></div>
<div class="t" style="top:320px;font-size:19.62px;color:#2a5a8c;-webkit-text-stroke:0.45px #2a5a8c;left:1466.00px;transform:scaleX(0.9703);transform-origin:0 0;">$0.65M</div>
<div class="t" style="top:357px;font-size:19.62px;color:#2a5a8c;-webkit-text-stroke:0.45px #2a5a8c;left:1051.10px;transform:scaleX(0.9703);transform-origin:0 0;">$0.06M</div>
<div class="t" style="top:339px;font-size:19.48px;color:#1a1a1a;-webkit-text-stroke:0.45px #1a1a1a;letter-spacing:0.4px;right:1579.11px;transform:scaleX(0.9660);transform-origin:100% 0;">12003 <span style="padding:0 1.6px">-</span> Work In P...</div>
<div style="left:997.00px;top:407.25px;width:85.50px;height:37.10px;background:#71b9fc;"></div>
<div style="left:997.00px;top:444.35px;width:179.00px;height:37.15px;background:#0c4a82;"></div>
<div class="t" style="top:417px;font-size:19.62px;color:#2a5a8c;-webkit-text-stroke:0.45px #2a5a8c;left:1098.50px;transform:scaleX(0.9703);transform-origin:0 0;">$0.12M</div>
<div class="t" style="top:455px;font-size:19.62px;color:#2a5a8c;-webkit-text-stroke:0.45px #2a5a8c;left:1191.50px;transform:scaleX(0.9703);transform-origin:0 0;">$0.26M</div>
<div class="t" style="top:437px;font-size:19.48px;color:#1a1a1a;-webkit-text-stroke:0.45px #1a1a1a;letter-spacing:0.4px;right:1579.12px;transform:scaleX(0.9513);transform-origin:100% 0;">12004 <span style="padding:0 1.6px">-</span> Finished ...</div>
<div style="left:997.00px;top:504.75px;width:155.80px;height:37.10px;background:#71b9fc;"></div>
<div style="left:997.00px;top:541.85px;width:74.70px;height:37.15px;background:#0c4a82;"></div>
<div class="t" style="top:515px;font-size:19.62px;color:#2a5a8c;-webkit-text-stroke:0.45px #2a5a8c;left:1168.80px;transform:scaleX(0.9703);transform-origin:0 0;">$0.22M</div>
<div class="t" style="top:552px;font-size:19.62px;color:#2a5a8c;-webkit-text-stroke:0.45px #2a5a8c;left:1087.20px;transform:scaleX(0.9924);transform-origin:0 0;">$0.11M</div>
<div class="t" style="top:534px;font-size:19.48px;color:#1a1a1a;-webkit-text-stroke:0.45px #1a1a1a;letter-spacing:0.4px;right:1579.12px;transform:scaleX(0.9516);transform-origin:100% 0;">12001 <span style="padding:0 1.6px">-</span> Raw Mate...</div>
<div style="left:997.00px;top:602.25px;width:46.70px;height:37.10px;background:#71b9fc;"></div>
<div style="left:997.00px;top:639.35px;width:22.60px;height:37.15px;background:#0c4a82;"></div>
<div class="t" style="top:612px;font-size:19.62px;color:#2a5a8c;-webkit-text-stroke:0.45px #2a5a8c;left:1059.70px;transform:scaleX(0.9703);transform-origin:0 0;">$0.07M</div>
<div class="t" style="top:650px;font-size:19.62px;color:#2a5a8c;-webkit-text-stroke:0.45px #2a5a8c;left:1035.10px;transform:scaleX(0.9703);transform-origin:0 0;">$0.03M</div>
<div class="t" style="top:632px;font-size:19.48px;color:#1a1a1a;-webkit-text-stroke:0.45px #1a1a1a;letter-spacing:0.4px;right:1579.11px;transform:scaleX(0.9766);transform-origin:100% 0;">12002 <span style="padding:0 1.6px">-</span> Intermedi...</div>
<div class="t" style="top:731px;font-size:19.62px;color:#1a1a1a;-webkit-text-stroke:0.45px #1a1a1a;left:970.03px;transform:scaleX(0.9500);transform-origin:50% 0;">$0.0M</div>
<div class="t" style="top:731px;font-size:19.62px;color:#1a1a1a;-webkit-text-stroke:0.45px #1a1a1a;left:1315.93px;transform:scaleX(0.9500);transform-origin:50% 0;">$0.5M</div>
<div style="left:766px;top:781px;width:816.5px;height:562.5px;background:#e6e6e6;border:1px solid #dcdcdc;box-sizing:border-box"></div>
<div style="left:768.00px;top:783.50px;width:814.50px;height:32.50px;background:#122b52;"></div>
<div class="t" style="top:786px;font-size:28.78px;color:#fff;-webkit-text-stroke:0.8px #fff;left:873.00px;transform:scaleX(1.0072);transform-origin:0 0;">Change In Inventory Value Per Month And Year</div>
<div style="left:1094.50px;top:845.20px;width:19px;height:19px;border-radius:50%;background:#8bb836;"></div>
<div class="t" style="top:843px;font-size:20.93px;color:#1a1a1a;-webkit-text-stroke:0.45px #1a1a1a;left:1118.50px;transform:scaleX(1.0094);transform-origin:0 0;">2020</div>
<div style="left:1178.50px;top:845.20px;width:19px;height:19px;border-radius:50%;background:#3d551c;"></div>
<div class="t" style="top:843px;font-size:20.93px;color:#1a1a1a;-webkit-text-stroke:0.45px #1a1a1a;left:1203.00px;transform:scaleX(0.9772);transform-origin:0 0;">2021</div>
<svg style="left:860px;top:895.9px" width="720" height="4"><line x1="2" y1="2" x2="718" y2="2" stroke="#8c8c8c" stroke-width="2.2" stroke-dasharray="0.01 11.33" stroke-linecap="round"/></svg>
<div class="t" style="top:890px;font-size:18.9px;color:#1a1a1a;-webkit-text-stroke:0.45px #1a1a1a;right:1718.00px;transform:scaleX(0.9800);transform-origin:100% 0;">$0.6M</div>
<svg style="left:860px;top:995.23px" width="720" height="4"><line x1="2" y1="2" x2="718" y2="2" stroke="#8c8c8c" stroke-width="2.2" stroke-dasharray="0.01 11.33" stroke-linecap="round"/></svg>
<div class="t" style="top:990px;font-size:18.9px;color:#1a1a1a;-webkit-text-stroke:0.45px #1a1a1a;right:1718.00px;transform:scaleX(0.9800);transform-origin:100% 0;">$0.4M</div>
<svg style="left:860px;top:1094.56px" width="720" height="4"><line x1="2" y1="2" x2="718" y2="2" stroke="#8c8c8c" stroke-width="2.2" stroke-dasharray="0.01 11.33" stroke-linecap="round"/></svg>
<div class="t" style="top:1089px;font-size:18.9px;color:#1a1a1a;-webkit-text-stroke:0.45px #1a1a1a;right:1718.00px;transform:scaleX(0.9800);transform-origin:100% 0;">$0.2M</div>
<svg style="left:860px;top:1193.8899999999999px" width="720" height="4"><line x1="2" y1="2" x2="718" y2="2" stroke="#8c8c8c" stroke-width="2.2" stroke-dasharray="0.01 11.33" stroke-linecap="round"/></svg>
<div class="t" style="top:1188px;font-size:18.9px;color:#1a1a1a;-webkit-text-stroke:0.45px #1a1a1a;right:1718.00px;transform:scaleX(0.9800);transform-origin:100% 0;">$0.0M</div>
<svg style="left:860px;top:1293.22px" width="720" height="4"><line x1="2" y1="2" x2="718" y2="2" stroke="#8c8c8c" stroke-width="2.2" stroke-dasharray="0.01 11.33" stroke-linecap="round"/></svg>
<div class="t" style="top:1288px;font-size:18.9px;color:#1a1a1a;-webkit-text-stroke:0.45px #1a1a1a;right:1718.00px;transform:scaleX(0.9800);transform-origin:100% 0;">($0.2M)</div>
<div style="left:884.00px;top:1111.62px;width:19.50px;height:84.28px;background:#8bb836;"></div>
<div style="left:903.50px;top:1148.40px;width:19.50px;height:47.50px;background:#3d551c;"></div>
<div class="t" style="top:1309px;font-size:20.06px;color:#1a1a1a;-webkit-text-stroke:0.45px #1a1a1a;left:887.83px;transform:scaleX(0.9500);transform-origin:50% 0;">Jan</div>
<div style="left:941.17px;top:1195.90px;width:19.50px;height:85.75px;background:#8bb836;"></div>
<div style="left:960.67px;top:1138.45px;width:19.50px;height:57.45px;background:#3d551c;"></div>
<div class="t" style="top:1309px;font-size:20.06px;color:#1a1a1a;-webkit-text-stroke:0.45px #1a1a1a;left:943.89px;transform:scaleX(0.9500);transform-origin:50% 0;">Feb</div>
<div style="left:998.34px;top:1180.17px;width:19.50px;height:15.73px;background:#8bb836;"></div>
<div style="left:1017.84px;top:1101.40px;width:19.50px;height:94.50px;background:#3d551c;"></div>
<div class="t" style="top:1309px;font-size:20.06px;color:#1a1a1a;-webkit-text-stroke:0.45px #1a1a1a;left:1001.07px;transform:scaleX(0.9500);transform-origin:50% 0;">Mar</div>
<div style="left:1055.51px;top:1148.96px;width:19.50px;height:46.94px;background:#8bb836;"></div>
<div style="left:1075.01px;top:1195.90px;width:19.50px;height:3.27px;background:#3d551c;"></div>
<div class="t" style="top:1309px;font-size:20.06px;color:#1a1a1a;-webkit-text-stroke:0.45px #1a1a1a;left:1059.90px;transform:scaleX(0.9500);transform-origin:50% 0;">Apr</div>
<div style="left:1112.68px;top:1195.90px;width:19.50px;height:40.87px;background:#8bb836;"></div>
<div style="left:1132.18px;top:1194.70px;width:19.50px;height:1.20px;background:#3d551c;"></div>
<div class="t" style="top:1309px;font-size:20.06px;color:#1a1a1a;-webkit-text-stroke:0.45px #1a1a1a;left:1113.73px;transform:scaleX(0.9500);transform-origin:50% 0;">May</div>
<div style="left:1169.85px;top:1149.94px;width:19.50px;height:45.96px;background:#8bb836;"></div>
<div style="left:1189.35px;top:1128.20px;width:19.50px;height:67.70px;background:#3d551c;"></div>
<div class="t" style="top:1309px;font-size:20.06px;color:#1a1a1a;-webkit-text-stroke:0.45px #1a1a1a;left:1173.68px;transform:scaleX(0.9500);transform-origin:50% 0;">Jun</div>
<div style="left:1227.02px;top:1172.95px;width:19.50px;height:22.95px;background:#8bb836;"></div>
<div style="left:1246.52px;top:1163.58px;width:19.50px;height:32.32px;background:#3d551c;"></div>
<div class="t" style="top:1309px;font-size:20.06px;color:#1a1a1a;-webkit-text-stroke:0.45px #1a1a1a;left:1234.20px;transform:scaleX(0.9500);transform-origin:50% 0;">Jul</div>
<div style="left:1284.19px;top:1107.44px;width:19.50px;height:88.46px;background:#8bb836;"></div>
<div style="left:1303.69px;top:1087.64px;width:19.50px;height:108.26px;background:#3d551c;"></div>
<div class="t" style="top:1309px;font-size:20.06px;color:#1a1a1a;-webkit-text-stroke:0.45px #1a1a1a;left:1286.34px;transform:scaleX(0.9500);transform-origin:50% 0;">Aug</div>
<div style="left:1341.36px;top:1158.36px;width:19.50px;height:37.54px;background:#8bb836;"></div>
<div style="left:1360.86px;top:1195.90px;width:19.50px;height:51.56px;background:#3d551c;"></div>
<div class="t" style="top:1309px;font-size:20.06px;color:#1a1a1a;-webkit-text-stroke:0.45px #1a1a1a;left:1343.51px;transform:scaleX(0.9500);transform-origin:50% 0;">Sep</div>
<div style="left:1398.53px;top:1182.04px;width:19.50px;height:13.86px;background:#8bb836;"></div>
<div style="left:1418.03px;top:1195.90px;width:19.50px;height:18.59px;background:#3d551c;"></div>
<div class="t" style="top:1309px;font-size:20.06px;color:#1a1a1a;-webkit-text-stroke:0.45px #1a1a1a;left:1402.93px;transform:scaleX(0.9500);transform-origin:50% 0;">Oct</div>
<div style="left:1455.70px;top:930.33px;width:19.50px;height:265.57px;background:#8bb836;"></div>
<div style="left:1475.20px;top:1195.90px;width:19.50px;height:90.95px;background:#3d551c;"></div>
<div class="t" style="top:1309px;font-size:20.06px;color:#1a1a1a;-webkit-text-stroke:0.45px #1a1a1a;left:1457.86px;transform:scaleX(0.9500);transform-origin:50% 0;">Nov</div>
<div style="left:1512.87px;top:1159.62px;width:19.50px;height:36.28px;background:#8bb836;"></div>
<div style="left:1532.37px;top:1195.90px;width:19.50px;height:18.59px;background:#3d551c;"></div>
<div class="t" style="top:1309px;font-size:20.06px;color:#1a1a1a;-webkit-text-stroke:0.45px #1a1a1a;left:1515.03px;transform:scaleX(0.9500);transform-origin:50% 0;">Dec</div>
<div style="left:1608px;top:156px;width:849.5px;height:1188px;background:#808080;"></div>
<div style="left:1610.00px;top:158.00px;width:845.50px;height:32.50px;background:#9ccb45;"></div>
<div class="t" style="top:162px;font-size:27.33px;color:#1e2d12;-webkit-text-stroke:0.45px #1e2d12;left:1780.50px;transform:scaleX(1.0573);transform-origin:0 0;">Net Stock Quantity / Backlog Year 2021</div>
<div style="left:1619.50px;top:200.00px;width:812.70px;height:99.20px;background:#29341a;"></div>
<div style="left:1897.00px;top:200.00px;width:1.00px;height:99.20px;background:#3a4a28;"></div>
<div style="left:2019.80px;top:200.00px;width:1.00px;height:99.20px;background:#3a4a28;"></div>
<div style="left:2144.80px;top:200.00px;width:1.00px;height:99.20px;background:#3a4a28;"></div>
<div style="left:2284.50px;top:200.00px;width:1.00px;height:99.20px;background:#3a4a28;"></div>
<div class="t" style="top:206px;font-size:20.78px;color:#fff;font-weight:bold;left:1629.00px;">Month</div>
<div class="t" style="top:206px;font-size:20.78px;color:#fff;font-weight:bold;right:550.00px;">Available</div>
<div class="t" style="top:232px;font-size:20.78px;color:#fff;font-weight:bold;right:550.00px;">Qty</div>
<div class="t" style="top:206px;font-size:20.78px;color:#fff;font-weight:bold;right:425.00px;">Sold</div>
<div class="t" style="top:232px;font-size:20.78px;color:#fff;font-weight:bold;right:425.00px;">Quantity</div>
<div class="t" style="top:206px;font-size:20.78px;color:#fff;font-weight:bold;right:285.00px;">Net Stock</div>
<div class="t" style="top:232px;font-size:20.78px;color:#fff;font-weight:bold;right:285.00px;">Qty/</div>
<div class="t" style="top:258px;font-size:20.78px;color:#fff;font-weight:bold;right:285.00px;">Backlog</div>
<div class="t" style="top:206px;font-size:20.78px;color:#fff;font-weight:bold;right:139.00px;">Net Stock</div>
<div class="t" style="top:232px;font-size:20.78px;color:#fff;font-weight:bold;right:139.00px;">Qty/Backlog</div>
<div class="t" style="top:258px;font-size:20.78px;color:#fff;font-weight:bold;right:139.00px;">%</div>
<div style="left:2432.30px;top:200.00px;width:14.00px;height:1119.50px;background:#ededed;"></div>
<div style="left:2432.00px;top:299.00px;width:1.00px;height:1020.00px;background:#b5b5b5;"></div>
<div style="left:2432.30px;top:250.80px;width:14.00px;height:804.50px;background:#c9c9c9;"></div>
<svg style="left:2432.3px;top:216px" width="14" height="16"><path d="M2.7 12.5 L8.5 4.2 L14.3 12.5" fill="none" stroke="#444" stroke-width="1.7"/></svg>
<svg style="left:2432.3px;top:1285.3px" width="14" height="16"><path d="M2.7 4.5 L8.5 12.8 L14.3 4.5" fill="none" stroke="#444" stroke-width="1.7"/></svg>
<div style="left:0;top:299px;width:2560px;height:1008.00px;overflow:hidden"><div style="left:0;top:-299px;width:2560px;height:1440px">
<div style="left:1619.50px;top:299.50px;width:812.70px;height:30.26px;background:#ebf0df;"></div>
<div style="left:1619.50px;top:328.76px;width:277.50px;height:1.00px;background:#d5dac8;"></div>
<div style="left:1898.00px;top:328.76px;width:534.20px;height:1.00px;background:#dde2d0;"></div>
<div style="left:2019.80px;top:299.50px;width:1.00px;height:30.26px;background:#dfe4d3;"></div>
<div style="left:2144.80px;top:299.50px;width:1.00px;height:30.26px;background:#dfe4d3;"></div>
<div style="left:2284.50px;top:299.50px;width:1.00px;height:30.26px;background:#dfe4d3;"></div>
<div style="left:1629.8px;top:303.4px;width:17px;height:17px;border:2px solid #858a7e;box-sizing:border-box;"></div>
<div style="left:1633.80px;top:310.90px;width:9.00px;height:2.00px;background:#858a7e;"></div>
<div style="left:1637.30px;top:307.40px;width:2.00px;height:9.00px;background:#858a7e;"></div>
<div class="t" style="top:305px;font-size:22.38px;color:#252423;font-weight:bold;left:1664.80px;transform:scaleX(0.9500);transform-origin:0 0;">January</div>
<div class="t" style="top:305px;font-size:22.38px;color:#252423;font-weight:bold;right:550.00px;transform:scaleX(0.9550);transform-origin:100% 0;">5,796</div>
<div class="t" style="top:305px;font-size:22.38px;color:#252423;font-weight:bold;right:425.00px;transform:scaleX(0.9550);transform-origin:100% 0;">3,503</div>
<div class="t" style="top:305px;font-size:22.38px;color:#252423;font-weight:bold;right:286.00px;transform:scaleX(0.9550);transform-origin:100% 0;">2,293</div>
<div class="t" style="top:305px;font-size:22.38px;color:#252423;font-weight:bold;right:139.00px;transform:scaleX(0.9550);transform-origin:100% 0;">39.57%</div>
<div style="left:1619.50px;top:329.76px;width:812.70px;height:30.26px;background:#ebf0df;"></div>
<div style="left:1619.50px;top:359.02px;width:277.50px;height:1.00px;background:#d5dac8;"></div>
<div style="left:1898.00px;top:359.02px;width:534.20px;height:1.00px;background:#dde2d0;"></div>
<div style="left:2019.80px;top:329.76px;width:1.00px;height:30.26px;background:#dfe4d3;"></div>
<div style="left:2144.80px;top:329.76px;width:1.00px;height:30.26px;background:#dfe4d3;"></div>
<div style="left:2284.50px;top:329.76px;width:1.00px;height:30.26px;background:#dfe4d3;"></div>
<div style="left:1629.8px;top:333.65999999999997px;width:17px;height:17px;border:2px solid #858a7e;box-sizing:border-box;"></div>
<div style="left:1633.80px;top:341.16px;width:9.00px;height:2.00px;background:#858a7e;"></div>
<div class="t" style="top:336px;font-size:22.38px;color:#252423;font-weight:bold;left:1664.80px;transform:scaleX(0.9500);transform-origin:0 0;">February</div>
<div class="t" style="top:336px;font-size:22.38px;color:#252423;font-weight:bold;right:550.00px;transform:scaleX(0.9550);transform-origin:100% 0;">5,721</div>
<div class="t" style="top:336px;font-size:22.38px;color:#252423;font-weight:bold;right:425.00px;transform:scaleX(0.9550);transform-origin:100% 0;">6,165</div>
<div class="t" style="top:336px;font-size:22.38px;color:#252423;font-weight:bold;right:286.00px;transform:scaleX(0.9550);transform-origin:100% 0;"><span style="letter-spacing:2.2px">-</span>444</div>
<div class="t" style="top:336px;font-size:22.38px;color:#252423;font-weight:bold;right:139.00px;transform:scaleX(0.9550);transform-origin:100% 0;"><span style="letter-spacing:2.2px">-</span>7.76%</div>
<div style="left:1619.50px;top:360.02px;width:812.70px;height:30.26px;background:#fff;"></div>
<div style="left:1619.50px;top:389.28px;width:277.50px;height:1.00px;background:#d2d2d2;"></div>
<div style="left:1898.00px;top:389.28px;width:534.20px;height:1.00px;background:#ececec;"></div>
<div style="left:2019.80px;top:360.02px;width:1.00px;height:30.26px;background:#eeeeee;"></div>
<div style="left:2144.80px;top:360.02px;width:1.00px;height:30.26px;background:#eeeeee;"></div>
<div style="left:2284.50px;top:360.02px;width:1.00px;height:30.26px;background:#eeeeee;"></div>
<div class="t" style="top:364px;font-size:21.08px;color:#333;-webkit-text-stroke:0.45px #333;letter-spacing:0.6px;left:1680.60px;transform:scaleX(1.0302);transform-origin:0 0;">Berry Blast</div>
<div class="t" style="top:366px;font-size:20.78px;color:#333;-webkit-text-stroke:0.45px #333;right:550.00px;">464</div>
<div class="t" style="top:366px;font-size:20.78px;color:#333;-webkit-text-stroke:0.45px #333;right:425.00px;">433</div>
<div class="t" style="top:366px;font-size:20.78px;color:#333;-webkit-text-stroke:0.45px #333;right:286.00px;">31</div>
<div class="t" style="top:366px;font-size:20.78px;color:#333;-webkit-text-stroke:0.45px #333;right:139.00px;">6.63%</div>
<div style="left:2295.00px;top:361.92px;width:26.8px;height:26.8px;border-radius:50%;background:#f8d08a;border:1.6px solid #f5bd62;box-sizing:border-box;"></div>
<div style="left:1619.50px;top:390.28px;width:812.70px;height:30.26px;background:#fff;"></div>
<div style="left:1619.50px;top:419.54px;width:277.50px;height:1.00px;background:#d2d2d2;"></div>
<div style="left:1898.00px;top:419.54px;width:534.20px;height:1.00px;background:#ececec;"></div>
<div style="left:2019.80px;top:390.28px;width:1.00px;height:30.26px;background:#eeeeee;"></div>
<div style="left:2144.80px;top:390.28px;width:1.00px;height:30.26px;background:#eeeeee;"></div>
<div style="left:2284.50px;top:390.28px;width:1.00px;height:30.26px;background:#eeeeee;"></div>
<div class="t" style="top:395px;font-size:21.08px;color:#333;-webkit-text-stroke:0.45px #333;letter-spacing:0.6px;left:1680.60px;transform:scaleX(0.9764);transform-origin:0 0;">Bomb Banana</div>
<div class="t" style="top:396px;font-size:20.78px;color:#333;-webkit-text-stroke:0.45px #333;right:550.00px;">469</div>
<div class="t" style="top:396px;font-size:20.78px;color:#333;-webkit-text-stroke:0.45px #333;right:425.00px;">465</div>
<div class="t" style="top:396px;font-size:20.78px;color:#333;-webkit-text-stroke:0.45px #333;right:286.00px;">4</div>
<div class="t" style="top:396px;font-size:20.78px;color:#333;-webkit-text-stroke:0.45px #333;right:139.00px;">0.88%</div>
<div style="left:2295.00px;top:392.18px;width:26.8px;height:26.8px;border-radius:50%;background:#f8d08a;border:1.6px solid #f5bd62;box-sizing:border-box;"></div>
<div style="left:1619.50px;top:420.54px;width:812.70px;height:30.26px;background:#fff;"></div>
<div style="left:1619.50px;top:449.80px;width:277.50px;height:1.00px;background:#d2d2d2;"></div>
<div style="left:1898.00px;top:449.80px;width:534.20px;height:1.00px;background:#ececec;"></div>
<div style="left:2019.80px;top:420.54px;width:1.00px;height:30.26px;background:#eeeeee;"></div>
<div style="left:2144.80px;top:420.54px;width:1.00px;height:30.26px;background:#eeeeee;"></div>
<div style="left:2284.50px;top:420.54px;width:1.00px;height:30.26px;background:#eeeeee;"></div>
<div class="t" style="top:425px;font-size:21.08px;color:#333;-webkit-text-stroke:0.45px #333;letter-spacing:0.6px;left:1680.60px;transform:scaleX(1.0210);transform-origin:0 0;">Caramel Swirl</div>
<div class="t" style="top:426px;font-size:20.78px;color:#333;-webkit-text-stroke:0.45px #333;right:550.00px;">91</div>
<div class="t" style="top:426px;font-size:20.78px;color:#333;-webkit-text-stroke:0.45px #333;right:425.00px;">100</div>
<div class="t" style="top:426px;font-size:20.78px;color:#333;-webkit-text-stroke:0.45px #333;right:286.00px;"><span style="letter-spacing:2.2px">-</span>9</div>
<div class="t" style="top:426px;font-size:20.78px;color:#333;-webkit-text-stroke:0.45px #333;right:139.00px;"><span style="letter-spacing:2.2px">-</span>10.00%</div>
<div style="left:2295.00px;top:422.44px;width:26.8px;height:26.8px;border-radius:50%;background:#f47f72;border:1.6px solid #ef6147;box-sizing:border-box;"></div>
<div style="left:1619.50px;top:450.80px;width:812.70px;height:30.26px;background:#fff;"></div>
<div style="left:1619.50px;top:480.06px;width:277.50px;height:1.00px;background:#d2d2d2;"></div>
<div style="left:1898.00px;top:480.06px;width:534.20px;height:1.00px;background:#ececec;"></div>
<div style="left:2019.80px;top:450.80px;width:1.00px;height:30.26px;background:#eeeeee;"></div>
<div style="left:2144.80px;top:450.80px;width:1.00px;height:30.26px;background:#eeeeee;"></div>
<div style="left:2284.50px;top:450.80px;width:1.00px;height:30.26px;background:#eeeeee;"></div>
<div class="t" style="top:455px;font-size:21.08px;color:#333;-webkit-text-stroke:0.45px #333;letter-spacing:0.6px;left:1680.60px;transform:scaleX(0.9851);transform-origin:0 0;">Coconut Cream</div>
<div class="t" style="top:456px;font-size:20.78px;color:#333;-webkit-text-stroke:0.45px #333;right:550.00px;">118</div>
<div class="t" style="top:456px;font-size:20.78px;color:#333;-webkit-text-stroke:0.45px #333;right:425.00px;">130</div>
<div class="t" style="top:456px;font-size:20.78px;color:#333;-webkit-text-stroke:0.45px #333;right:286.00px;"><span style="letter-spacing:2.2px">-</span>12</div>
<div class="t" style="top:456px;font-size:20.78px;color:#333;-webkit-text-stroke:0.45px #333;right:139.00px;"><span style="letter-spacing:2.2px">-</span>10.00%</div>
<div style="left:2295.00px;top:452.70px;width:26.8px;height:26.8px;border-radius:50%;background:#f47f72;border:1.6px solid #ef6147;box-sizing:border-box;"></div>
<div style="left:1619.50px;top:481.06px;width:812.70px;height:30.26px;background:#fff;"></div>
<div style="left:1619.50px;top:510.32px;width:277.50px;height:1.00px;background:#d2d2d2;"></div>
<div style="left:1898.00px;top:510.32px;width:534.20px;height:1.00px;background:#ececec;"></div>
<div style="left:2019.80px;top:481.06px;width:1.00px;height:30.26px;background:#eeeeee;"></div>
<div style="left:2144.80px;top:481.06px;width:1.00px;height:30.26px;background:#eeeeee;"></div>
<div style="left:2284.50px;top:481.06px;width:1.00px;height:30.26px;background:#eeeeee;"></div>
<div class="t" style="top:485px;font-size:21.08px;color:#333;-webkit-text-stroke:0.45px #333;letter-spacing:0.6px;left:1680.60px;">Coffee Swirl</div>
<div class="t" style="top:487px;font-size:20.78px;color:#333;-webkit-text-stroke:0.45px #333;right:550.00px;">586</div>
<div class="t" style="top:487px;font-size:20.78px;color:#333;-webkit-text-stroke:0.45px #333;right:425.00px;">645</div>
<div class="t" style="top:487px;font-size:20.78px;color:#333;-webkit-text-stroke:0.45px #333;right:286.00px;"><span style="letter-spacing:2.2px">-</span>59</div>
<div class="t" style="top:487px;font-size:20.78px;color:#333;-webkit-text-stroke:0.45px #333;right:139.00px;"><span style="letter-spacing:2.2px">-</span>10.00%</div>
<div style="left:2295.00px;top:482.96px;width:26.8px;height:26.8px;border-radius:50%;background:#f47f72;border:1.6px solid #ef6147;box-sizing:border-box;"></div>
<div style="left:1619.50px;top:511.32px;width:812.70px;height:30.26px;background:#fff;"></div>
<div style="left:1619.50px;top:540.58px;width:277.50px;height:1.00px;background:#d2d2d2;"></div>
<div style="left:1898.00px;top:540.58px;width:534.20px;height:1.00px;background:#ececec;"></div>
<div style="left:2019.80px;top:511.32px;width:1.00px;height:30.26px;background:#eeeeee;"></div>
<div style="left:2144.80px;top:511.32px;width:1.00px;height:30.26px;background:#eeeeee;"></div>
<div style="left:2284.50px;top:511.32px;width:1.00px;height:30.26px;background:#eeeeee;"></div>
<div class="t" style="top:516px;font-size:21.08px;color:#333;-webkit-text-stroke:0.45px #333;letter-spacing:0.6px;left:1680.60px;transform:scaleX(0.9783);transform-origin:0 0;">Cola Star</div>
<div class="t" style="top:517px;font-size:20.78px;color:#333;-webkit-text-stroke:0.45px #333;right:550.00px;">109</div>
<div class="t" style="top:517px;font-size:20.78px;color:#333;-webkit-text-stroke:0.45px #333;right:425.00px;">120</div>
<div class="t" style="top:517px;font-size:20.78px;color:#333;-webkit-text-stroke:0.45px #333;right:286.00px;"><span style="letter-spacing:2.2px">-</span>11</div>
<div class="t" style="top:517px;font-size:20.78px;color:#333;-webkit-text-stroke:0.45px #333;right:139.00px;"><span style="letter-spacing:2.2px">-</span>10.00%</div>
<div style="left:2295.00px;top:513.22px;width:26.8px;height:26.8px;border-radius:50%;background:#f47f72;border:1.6px solid #ef6147;box-sizing:border-box;"></div>
<div style="left:1619.50px;top:541.58px;width:812.70px;height:30.26px;background:#fff;"></div>
<div style="left:1619.50px;top:570.84px;width:277.50px;height:1.00px;background:#d2d2d2;"></div>
<div style="left:1898.00px;top:570.84px;width:534.20px;height:1.00px;background:#ececec;"></div>
<div style="left:2019.80px;top:541.58px;width:1.00px;height:30.26px;background:#eeeeee;"></div>
<div style="left:2144.80px;top:541.58px;width:1.00px;height:30.26px;background:#eeeeee;"></div>
<div style="left:2284.50px;top:541.58px;width:1.00px;height:30.26px;background:#eeeeee;"></div>
<div class="t" style="top:546px;font-size:21.08px;color:#333;-webkit-text-stroke:0.45px #333;letter-spacing:0.6px;left:1680.60px;transform:scaleX(1.0127);transform-origin:0 0;">Fudge Swirl</div>
<div class="t" style="top:547px;font-size:20.78px;color:#333;-webkit-text-stroke:0.45px #333;right:550.00px;">694</div>
<div class="t" style="top:547px;font-size:20.78px;color:#333;-webkit-text-stroke:0.45px #333;right:425.00px;">763</div>
<div class="t" style="top:547px;font-size:20.78px;color:#333;-webkit-text-stroke:0.45px #333;right:286.00px;"><span style="letter-spacing:2.2px">-</span>69</div>
<div class="t" style="top:547px;font-size:20.78px;color:#333;-webkit-text-stroke:0.45px #333;right:139.00px;"><span style="letter-spacing:2.2px">-</span>10.00%</div>
<div style="left:2295.00px;top:543.48px;width:26.8px;height:26.8px;border-radius:50%;background:#f47f72;border:1.6px solid #ef6147;box-sizing:border-box;"></div>
<div style="left:1619.50px;top:571.84px;width:812.70px;height:30.26px;background:#fff;"></div>
<div style="left:1619.50px;top:601.10px;width:277.50px;height:1.00px;background:#d2d2d2;"></div>
<div style="left:1898.00px;top:601.10px;width:534.20px;height:1.00px;background:#ececec;"></div>
<div style="left:2019.80px;top:571.84px;width:1.00px;height:30.26px;background:#eeeeee;"></div>
<div style="left:2144.80px;top:571.84px;width:1.00px;height:30.26px;background:#eeeeee;"></div>
<div style="left:2284.50px;top:571.84px;width:1.00px;height:30.26px;background:#eeeeee;"></div>
<div class="t" style="top:576px;font-size:21.08px;color:#333;-webkit-text-stroke:0.45px #333;letter-spacing:0.6px;left:1680.60px;transform:scaleX(1.0352);transform-origin:0 0;">Lemon Swirl</div>
<div class="t" style="top:577px;font-size:20.78px;color:#333;-webkit-text-stroke:0.45px #333;right:550.00px;">569</div>
<div class="t" style="top:577px;font-size:20.78px;color:#333;-webkit-text-stroke:0.45px #333;right:425.00px;">626</div>
<div class="t" style="top:577px;font-size:20.78px;color:#333;-webkit-text-stroke:0.45px #333;right:286.00px;"><span style="letter-spacing:2.2px">-</span>57</div>
<div class="t" style="top:577px;font-size:20.78px;color:#333;-webkit-text-stroke:0.45px #333;right:139.00px;"><span style="letter-spacing:2.2px">-</span>10.00%</div>
<div style="left:2295.00px;top:573.74px;width:26.8px;height:26.8px;border-radius:50%;background:#f47f72;border:1.6px solid #ef6147;box-sizing:border-box;"></div>
<div style="left:1619.50px;top:602.10px;width:812.70px;height:30.26px;background:#fff;"></div>
<div style="left:1619.50px;top:631.36px;width:277.50px;height:1.00px;background:#d2d2d2;"></div>
<div style="left:1898.00px;top:631.36px;width:534.20px;height:1.00px;background:#ececec;"></div>
<div style="left:2019.80px;top:602.10px;width:1.00px;height:30.26px;background:#eeeeee;"></div>
<div style="left:2144.80px;top:602.10px;width:1.00px;height:30.26px;background:#eeeeee;"></div>
<div style="left:2284.50px;top:602.10px;width:1.00px;height:30.26px;background:#eeeeee;"></div>
<div class="t" style="top:606px;font-size:21.08px;color:#333;-webkit-text-stroke:0.45px #333;letter-spacing:0.6px;left:1680.60px;transform:scaleX(0.9760);transform-origin:0 0;">Orange Cream</div>
<div class="t" style="top:608px;font-size:20.78px;color:#333;-webkit-text-stroke:0.45px #333;right:550.00px;">594</div>
<div class="t" style="top:608px;font-size:20.78px;color:#333;-webkit-text-stroke:0.45px #333;right:425.00px;">653</div>
<div class="t" style="top:608px;font-size:20.78px;color:#333;-webkit-text-stroke:0.45px #333;right:286.00px;"><span style="letter-spacing:2.2px">-</span>59</div>
<div class="t" style="top:608px;font-size:20.78px;color:#333;-webkit-text-stroke:0.45px #333;right:139.00px;"><span style="letter-spacing:2.2px">-</span>10.00%</div>
<div style="left:2295.00px;top:604.00px;width:26.8px;height:26.8px;border-radius:50%;background:#f47f72;border:1.6px solid #ef6147;box-sizing:border-box;"></div>
<div style="left:1619.50px;top:632.36px;width:812.70px;height:30.26px;background:#fff;"></div>
<div style="left:1619.50px;top:661.62px;width:277.50px;height:1.00px;background:#d2d2d2;"></div>
<div style="left:1898.00px;top:661.62px;width:534.20px;height:1.00px;background:#ececec;"></div>
<div style="left:2019.80px;top:632.36px;width:1.00px;height:30.26px;background:#eeeeee;"></div>
<div style="left:2144.80px;top:632.36px;width:1.00px;height:30.26px;background:#eeeeee;"></div>
<div style="left:2284.50px;top:632.36px;width:1.00px;height:30.26px;background:#eeeeee;"></div>
<div class="t" style="top:637px;font-size:21.08px;color:#333;-webkit-text-stroke:0.45px #333;letter-spacing:0.6px;left:1680.60px;transform:scaleX(1.0123);transform-origin:0 0;">Rasberry Delicious</div>
<div class="t" style="top:638px;font-size:20.78px;color:#333;-webkit-text-stroke:0.45px #333;right:550.00px;">114</div>
<div class="t" style="top:638px;font-size:20.78px;color:#333;-webkit-text-stroke:0.45px #333;right:425.00px;">126</div>
<div class="t" style="top:638px;font-size:20.78px;color:#333;-webkit-text-stroke:0.45px #333;right:286.00px;"><span style="letter-spacing:2.2px">-</span>11</div>
<div class="t" style="top:638px;font-size:20.78px;color:#333;-webkit-text-stroke:0.45px #333;right:139.00px;"><span style="letter-spacing:2.2px">-</span>10.00%</div>
<div style="left:2295.00px;top:634.26px;width:26.8px;height:26.8px;border-radius:50%;background:#f47f72;border:1.6px solid #ef6147;box-sizing:border-box;"></div>
<div style="left:1619.50px;top:662.62px;width:812.70px;height:30.26px;background:#fff;"></div>
<div style="left:1619.50px;top:691.88px;width:277.50px;height:1.00px;background:#d2d2d2;"></div>
<div style="left:1898.00px;top:691.88px;width:534.20px;height:1.00px;background:#ececec;"></div>
<div style="left:2019.80px;top:662.62px;width:1.00px;height:30.26px;background:#eeeeee;"></div>
<div style="left:2144.80px;top:662.62px;width:1.00px;height:30.26px;background:#eeeeee;"></div>
<div style="left:2284.50px;top:662.62px;width:1.00px;height:30.26px;background:#eeeeee;"></div>
<div class="t" style="top:667px;font-size:21.08px;color:#333;-webkit-text-stroke:0.45px #333;letter-spacing:0.6px;left:1680.60px;transform:scaleX(1.0276);transform-origin:0 0;">Strawberry Cream</div>
<div class="t" style="top:668px;font-size:20.78px;color:#333;-webkit-text-stroke:0.45px #333;right:550.00px;">125</div>
<div class="t" style="top:668px;font-size:20.78px;color:#333;-webkit-text-stroke:0.45px #333;right:425.00px;">138</div>
<div class="t" style="top:668px;font-size:20.78px;color:#333;-webkit-text-stroke:0.45px #333;right:286.00px;"><span style="letter-spacing:2.2px">-</span>13</div>
<div class="t" style="top:668px;font-size:20.78px;color:#333;-webkit-text-stroke:0.45px #333;right:139.00px;"><span style="letter-spacing:2.2px">-</span>10.00%</div>
<div style="left:2295.00px;top:664.52px;width:26.8px;height:26.8px;border-radius:50%;background:#f47f72;border:1.6px solid #ef6147;box-sizing:border-box;"></div>
<div style="left:1619.50px;top:692.88px;width:812.70px;height:30.26px;background:#fff;"></div>
<div style="left:1619.50px;top:722.14px;width:277.50px;height:1.00px;background:#d2d2d2;"></div>
<div style="left:1898.00px;top:722.14px;width:534.20px;height:1.00px;background:#ececec;"></div>
<div style="left:2019.80px;top:692.88px;width:1.00px;height:30.26px;background:#eeeeee;"></div>
<div style="left:2144.80px;top:692.88px;width:1.00px;height:30.26px;background:#eeeeee;"></div>
<div style="left:2284.50px;top:692.88px;width:1.00px;height:30.26px;background:#eeeeee;"></div>
<div class="t" style="top:697px;font-size:21.08px;color:#333;-webkit-text-stroke:0.45px #333;letter-spacing:0.6px;left:1680.60px;transform:scaleX(1.0346);transform-origin:0 0;">Strawberry Dreams</div>
<div class="t" style="top:698px;font-size:20.78px;color:#333;-webkit-text-stroke:0.45px #333;right:550.00px;">594</div>
<div class="t" style="top:698px;font-size:20.78px;color:#333;-webkit-text-stroke:0.45px #333;right:425.00px;">653</div>
<div class="t" style="top:698px;font-size:20.78px;color:#333;-webkit-text-stroke:0.45px #333;right:286.00px;"><span style="letter-spacing:2.2px">-</span>59</div>
<div class="t" style="top:698px;font-size:20.78px;color:#333;-webkit-text-stroke:0.45px #333;right:139.00px;"><span style="letter-spacing:2.2px">-</span>10.00%</div>
<div style="left:2295.00px;top:694.78px;width:26.8px;height:26.8px;border-radius:50%;background:#f47f72;border:1.6px solid #ef6147;box-sizing:border-box;"></div>
<div style="left:1619.50px;top:723.14px;width:812.70px;height:30.26px;background:#fff;"></div>
<div style="left:1619.50px;top:752.40px;width:277.50px;height:1.00px;background:#d2d2d2;"></div>
<div style="left:1898.00px;top:752.40px;width:534.20px;height:1.00px;background:#ececec;"></div>
<div style="left:2019.80px;top:723.14px;width:1.00px;height:30.26px;background:#eeeeee;"></div>
<div style="left:2144.80px;top:723.14px;width:1.00px;height:30.26px;background:#eeeeee;"></div>
<div style="left:2284.50px;top:723.14px;width:1.00px;height:30.26px;background:#eeeeee;"></div>
<div class="t" style="top:727px;font-size:21.08px;color:#333;-webkit-text-stroke:0.45px #333;letter-spacing:0.6px;left:1680.60px;transform:scaleX(1.0544);transform-origin:0 0;">Strawberry Swirl</div>
<div class="t" style="top:729px;font-size:20.78px;color:#333;-webkit-text-stroke:0.45px #333;right:550.00px;">552</div>
<div class="t" style="top:729px;font-size:20.78px;color:#333;-webkit-text-stroke:0.45px #333;right:425.00px;">607</div>
<div class="t" style="top:729px;font-size:20.78px;color:#333;-webkit-text-stroke:0.45px #333;right:286.00px;"><span style="letter-spacing:2.2px">-</span>55</div>
<div class="t" style="top:729px;font-size:20.78px;color:#333;-webkit-text-stroke:0.45px #333;right:139.00px;"><span style="letter-spacing:2.2px">-</span>10.00%</div>
<div style="left:2295.00px;top:725.04px;width:26.8px;height:26.8px;border-radius:50%;background:#f47f72;border:1.6px solid #ef6147;box-sizing:border-box;"></div>
<div style="left:1619.50px;top:753.40px;width:812.70px;height:30.26px;background:#fff;"></div>
<div style="left:1619.50px;top:782.66px;width:277.50px;height:1.00px;background:#d2d2d2;"></div>
<div style="left:1898.00px;top:782.66px;width:534.20px;height:1.00px;background:#ececec;"></div>
<div style="left:2019.80px;top:753.40px;width:1.00px;height:30.26px;background:#eeeeee;"></div>
<div style="left:2144.80px;top:753.40px;width:1.00px;height:30.26px;background:#eeeeee;"></div>
<div style="left:2284.50px;top:753.40px;width:1.00px;height:30.26px;background:#eeeeee;"></div>
<div class="t" style="top:758px;font-size:21.08px;color:#333;-webkit-text-stroke:0.45px #333;letter-spacing:0.6px;left:1680.60px;transform:scaleX(1.0193);transform-origin:0 0;">Sweet Monster</div>
<div class="t" style="top:759px;font-size:20.78px;color:#333;-webkit-text-stroke:0.45px #333;right:550.00px;">90</div>
<div class="t" style="top:759px;font-size:20.78px;color:#333;-webkit-text-stroke:0.45px #333;right:425.00px;">99</div>
<div class="t" style="top:759px;font-size:20.78px;color:#333;-webkit-text-stroke:0.45px #333;right:286.00px;"><span style="letter-spacing:2.2px">-</span>9</div>
<div class="t" style="top:759px;font-size:20.78px;color:#333;-webkit-text-stroke:0.45px #333;right:139.00px;"><span style="letter-spacing:2.2px">-</span>10.00%</div>
<div style="left:2295.00px;top:755.30px;width:26.8px;height:26.8px;border-radius:50%;background:#f47f72;border:1.6px solid #ef6147;box-sizing:border-box;"></div>
<div style="left:1619.50px;top:783.66px;width:812.70px;height:30.26px;background:#fff;"></div>
<div style="left:1619.50px;top:812.92px;width:277.50px;height:1.00px;background:#d2d2d2;"></div>
<div style="left:1898.00px;top:812.92px;width:534.20px;height:1.00px;background:#ececec;"></div>
<div style="left:2019.80px;top:783.66px;width:1.00px;height:30.26px;background:#eeeeee;"></div>
<div style="left:2144.80px;top:783.66px;width:1.00px;height:30.26px;background:#eeeeee;"></div>
<div style="left:2284.50px;top:783.66px;width:1.00px;height:30.26px;background:#eeeeee;"></div>
<div class="t" style="top:788px;font-size:21.08px;color:#333;-webkit-text-stroke:0.45px #333;letter-spacing:0.6px;left:1680.60px;transform:scaleX(1.0366);transform-origin:0 0;">Tutti Frutti</div>
<div class="t" style="top:789px;font-size:20.78px;color:#333;-webkit-text-stroke:0.45px #333;right:550.00px;">552</div>
<div class="t" style="top:789px;font-size:20.78px;color:#333;-webkit-text-stroke:0.45px #333;right:425.00px;">607</div>
<div class="t" style="top:789px;font-size:20.78px;color:#333;-webkit-text-stroke:0.45px #333;right:286.00px;"><span style="letter-spacing:2.2px">-</span>55</div>
<div class="t" style="top:789px;font-size:20.78px;color:#333;-webkit-text-stroke:0.45px #333;right:139.00px;"><span style="letter-spacing:2.2px">-</span>10.00%</div>
<div style="left:2295.00px;top:785.56px;width:26.8px;height:26.8px;border-radius:50%;background:#f47f72;border:1.6px solid #ef6147;box-sizing:border-box;"></div>
<div style="left:1619.50px;top:813.92px;width:812.70px;height:30.26px;background:#ebf0df;"></div>
<div style="left:1619.50px;top:843.18px;width:277.50px;height:1.00px;background:#d5dac8;"></div>
<div style="left:1898.00px;top:843.18px;width:534.20px;height:1.00px;background:#dde2d0;"></div>
<div style="left:2019.80px;top:813.92px;width:1.00px;height:30.26px;background:#dfe4d3;"></div>
<div style="left:2144.80px;top:813.92px;width:1.00px;height:30.26px;background:#dfe4d3;"></div>
<div style="left:2284.50px;top:813.92px;width:1.00px;height:30.26px;background:#dfe4d3;"></div>
<div style="left:1629.8px;top:817.8199999999998px;width:17px;height:17px;border:2px solid #858a7e;box-sizing:border-box;"></div>
<div style="left:1633.80px;top:825.32px;width:9.00px;height:2.00px;background:#858a7e;"></div>
<div style="left:1637.30px;top:821.82px;width:2.00px;height:9.00px;background:#858a7e;"></div>
<div class="t" style="top:820px;font-size:22.38px;color:#252423;font-weight:bold;left:1664.80px;transform:scaleX(0.9500);transform-origin:0 0;">March</div>
<div class="t" style="top:820px;font-size:22.38px;color:#252423;font-weight:bold;right:550.00px;transform:scaleX(0.9550);transform-origin:100% 0;">5,655</div>
<div class="t" style="top:820px;font-size:22.38px;color:#252423;font-weight:bold;right:425.00px;transform:scaleX(0.9550);transform-origin:100% 0;">3,541</div>
<div class="t" style="top:820px;font-size:22.38px;color:#252423;font-weight:bold;right:286.00px;transform:scaleX(0.9550);transform-origin:100% 0;">2,114</div>
<div class="t" style="top:820px;font-size:22.38px;color:#252423;font-weight:bold;right:139.00px;transform:scaleX(0.9550);transform-origin:100% 0;">37.39%</div>
<div style="left:1619.50px;top:844.18px;width:812.70px;height:30.26px;background:#ebf0df;"></div>
<div style="left:1619.50px;top:873.44px;width:277.50px;height:1.00px;background:#d5dac8;"></div>
<div style="left:1898.00px;top:873.44px;width:534.20px;height:1.00px;background:#dde2d0;"></div>
<div style="left:2019.80px;top:844.18px;width:1.00px;height:30.26px;background:#dfe4d3;"></div>
<div style="left:2144.80px;top:844.18px;width:1.00px;height:30.26px;background:#dfe4d3;"></div>
<div style="left:2284.50px;top:844.18px;width:1.00px;height:30.26px;background:#dfe4d3;"></div>
<div style="left:1629.8px;top:848.0799999999998px;width:17px;height:17px;border:2px solid #858a7e;box-sizing:border-box;"></div>
<div style="left:1633.80px;top:855.58px;width:9.00px;height:2.00px;background:#858a7e;"></div>
<div style="left:1637.30px;top:852.08px;width:2.00px;height:9.00px;background:#858a7e;"></div>
<div class="t" style="top:850px;font-size:22.38px;color:#252423;font-weight:bold;left:1664.80px;transform:scaleX(0.9500);transform-origin:0 0;">April</div>
<div class="t" style="top:850px;font-size:22.38px;color:#252423;font-weight:bold;right:550.00px;transform:scaleX(0.9550);transform-origin:100% 0;">5,553</div>
<div class="t" style="top:850px;font-size:22.38px;color:#252423;font-weight:bold;right:425.00px;transform:scaleX(0.9550);transform-origin:100% 0;">2,919</div>
<div class="t" style="top:850px;font-size:22.38px;color:#252423;font-weight:bold;right:286.00px;transform:scaleX(0.9550);transform-origin:100% 0;">2,634</div>
<div class="t" style="top:850px;font-size:22.38px;color:#252423;font-weight:bold;right:139.00px;transform:scaleX(0.9550);transform-origin:100% 0;">47.44%</div>
<div style="left:1619.50px;top:874.44px;width:812.70px;height:30.26px;background:#ebf0df;"></div>
<div style="left:1619.50px;top:903.70px;width:277.50px;height:1.00px;background:#d5dac8;"></div>
<div style="left:1898.00px;top:903.70px;width:534.20px;height:1.00px;background:#dde2d0;"></div>
<div style="left:2019.80px;top:874.44px;width:1.00px;height:30.26px;background:#dfe4d3;"></div>
<div style="left:2144.80px;top:874.44px;width:1.00px;height:30.26px;background:#dfe4d3;"></div>
<div style="left:2284.50px;top:874.44px;width:1.00px;height:30.26px;background:#dfe4d3;"></div>
<div style="left:1629.8px;top:878.3399999999998px;width:17px;height:17px;border:2px solid #858a7e;box-sizing:border-box;"></div>
<div style="left:1633.80px;top:885.84px;width:9.00px;height:2.00px;background:#858a7e;"></div>
<div style="left:1637.30px;top:882.34px;width:2.00px;height:9.00px;background:#858a7e;"></div>
<div class="t" style="top:880px;font-size:22.38px;color:#252423;font-weight:bold;left:1664.80px;transform:scaleX(0.9500);transform-origin:0 0;">May</div>
<div class="t" style="top:880px;font-size:22.38px;color:#252423;font-weight:bold;right:550.00px;transform:scaleX(0.9550);transform-origin:100% 0;">5,698</div>
<div class="t" style="top:880px;font-size:22.38px;color:#252423;font-weight:bold;right:425.00px;transform:scaleX(0.9550);transform-origin:100% 0;">2,005</div>
<div class="t" style="top:880px;font-size:22.38px;color:#252423;font-weight:bold;right:286.00px;transform:scaleX(0.9550);transform-origin:100% 0;">3,693</div>
<div class="t" style="top:880px;font-size:22.38px;color:#252423;font-weight:bold;right:139.00px;transform:scaleX(0.9550);transform-origin:100% 0;">64.81%</div>
<div style="left:1619.50px;top:904.70px;width:812.70px;height:30.26px;background:#ebf0df;"></div>
<div style="left:1619.50px;top:933.96px;width:277.50px;height:1.00px;background:#d5dac8;"></div>
<div style="left:1898.00px;top:933.96px;width:534.20px;height:1.00px;background:#dde2d0;"></div>
<div style="left:2019.80px;top:904.70px;width:1.00px;height:30.26px;background:#dfe4d3;"></div>
<div style="left:2144.80px;top:904.70px;width:1.00px;height:30.26px;background:#dfe4d3;"></div>
<div style="left:2284.50px;top:904.70px;width:1.00px;height:30.26px;background:#dfe4d3;"></div>
<div style="left:1629.8px;top:908.5999999999998px;width:17px;height:17px;border:2px solid #858a7e;box-sizing:border-box;"></div>
<div style="left:1633.80px;top:916.10px;width:9.00px;height:2.00px;background:#858a7e;"></div>
<div style="left:1637.30px;top:912.60px;width:2.00px;height:9.00px;background:#858a7e;"></div>
<div class="t" style="top:910px;font-size:22.38px;color:#252423;font-weight:bold;left:1664.80px;transform:scaleX(0.9500);transform-origin:0 0;">June</div>
<div class="t" style="top:910px;font-size:22.38px;color:#252423;font-weight:bold;right:550.00px;transform:scaleX(0.9550);transform-origin:100% 0;">5,635</div>
<div class="t" style="top:910px;font-size:22.38px;color:#252423;font-weight:bold;right:425.00px;transform:scaleX(0.9550);transform-origin:100% 0;">1,486</div>
<div class="t" style="top:910px;font-size:22.38px;color:#252423;font-weight:bold;right:286.00px;transform:scaleX(0.9550);transform-origin:100% 0;">4,149</div>
<div class="t" style="top:910px;font-size:22.38px;color:#252423;font-weight:bold;right:139.00px;transform:scaleX(0.9550);transform-origin:100% 0;">73.63%</div>
<div style="left:1619.50px;top:934.96px;width:812.70px;height:30.26px;background:#ebf0df;"></div>
<div style="left:1619.50px;top:964.22px;width:277.50px;height:1.00px;background:#d5dac8;"></div>
<div style="left:1898.00px;top:964.22px;width:534.20px;height:1.00px;background:#dde2d0;"></div>
<div style="left:2019.80px;top:934.96px;width:1.00px;height:30.26px;background:#dfe4d3;"></div>
<div style="left:2144.80px;top:934.96px;width:1.00px;height:30.26px;background:#dfe4d3;"></div>
<div style="left:2284.50px;top:934.96px;width:1.00px;height:30.26px;background:#dfe4d3;"></div>
<div style="left:1629.8px;top:938.8599999999998px;width:17px;height:17px;border:2px solid #858a7e;box-sizing:border-box;"></div>
<div style="left:1633.80px;top:946.36px;width:9.00px;height:2.00px;background:#858a7e;"></div>
<div style="left:1637.30px;top:942.86px;width:2.00px;height:9.00px;background:#858a7e;"></div>
<div class="t" style="top:941px;font-size:22.38px;color:#252423;font-weight:bold;left:1664.80px;transform:scaleX(0.9500);transform-origin:0 0;">July</div>
<div class="t" style="top:941px;font-size:22.38px;color:#252423;font-weight:bold;right:550.00px;transform:scaleX(0.9550);transform-origin:100% 0;">5,691</div>
<div class="t" style="top:941px;font-size:22.38px;color:#252423;font-weight:bold;right:425.00px;transform:scaleX(0.9550);transform-origin:100% 0;">3,002</div>
<div class="t" style="top:941px;font-size:22.38px;color:#252423;font-weight:bold;right:286.00px;transform:scaleX(0.9550);transform-origin:100% 0;">2,689</div>
<div class="t" style="top:941px;font-size:22.38px;color:#252423;font-weight:bold;right:139.00px;transform:scaleX(0.9550);transform-origin:100% 0;">47.24%</div>
<div style="left:1619.50px;top:965.22px;width:812.70px;height:30.26px;background:#ebf0df;"></div>
<div style="left:1619.50px;top:994.48px;width:277.50px;height:1.00px;background:#d5dac8;"></div>
<div style="left:1898.00px;top:994.48px;width:534.20px;height:1.00px;background:#dde2d0;"></div>
<div style="left:2019.80px;top:965.22px;width:1.00px;height:30.26px;background:#dfe4d3;"></div>
<div style="left:2144.80px;top:965.22px;width:1.00px;height:30.26px;background:#dfe4d3;"></div>
<div style="left:2284.50px;top:965.22px;width:1.00px;height:30.26px;background:#dfe4d3;"></div>
<div style="left:1629.8px;top:969.1199999999998px;width:17px;height:17px;border:2px solid #858a7e;box-sizing:border-box;"></div>
<div style="left:1633.80px;top:976.62px;width:9.00px;height:2.00px;background:#858a7e;"></div>
<div style="left:1637.30px;top:973.12px;width:2.00px;height:9.00px;background:#858a7e;"></div>
<div class="t" style="top:971px;font-size:22.38px;color:#252423;font-weight:bold;left:1664.80px;transform:scaleX(0.9500);transform-origin:0 0;">August</div>
<div class="t" style="top:971px;font-size:22.38px;color:#252423;font-weight:bold;right:550.00px;transform:scaleX(0.9550);transform-origin:100% 0;">5,897</div>
<div class="t" style="top:971px;font-size:22.38px;color:#252423;font-weight:bold;right:425.00px;transform:scaleX(0.9550);transform-origin:100% 0;">4,664</div>
<div class="t" style="top:971px;font-size:22.38px;color:#252423;font-weight:bold;right:286.00px;transform:scaleX(0.9550);transform-origin:100% 0;">1,233</div>
<div class="t" style="top:971px;font-size:22.38px;color:#252423;font-weight:bold;right:139.00px;transform:scaleX(0.9550);transform-origin:100% 0;">20.92%</div>
<div style="left:1619.50px;top:995.48px;width:812.70px;height:30.26px;background:#ebf0df;"></div>
<div style="left:1619.50px;top:1024.74px;width:277.50px;height:1.00px;background:#d5dac8;"></div>
<div style="left:1898.00px;top:1024.74px;width:534.20px;height:1.00px;background:#dde2d0;"></div>
<div style="left:2019.80px;top:995.48px;width:1.00px;height:30.26px;background:#dfe4d3;"></div>
<div style="left:2144.80px;top:995.48px;width:1.00px;height:30.26px;background:#dfe4d3;"></div>
<div style="left:2284.50px;top:995.48px;width:1.00px;height:30.26px;background:#dfe4d3;"></div>
<div style="left:1629.8px;top:999.3799999999998px;width:17px;height:17px;border:2px solid #858a7e;box-sizing:border-box;"></div>
<div style="left:1633.80px;top:1006.88px;width:9.00px;height:2.00px;background:#858a7e;"></div>
<div style="left:1637.30px;top:1003.38px;width:2.00px;height:9.00px;background:#858a7e;"></div>
<div class="t" style="top:1001px;font-size:22.38px;color:#252423;font-weight:bold;left:1664.80px;transform:scaleX(0.9500);transform-origin:0 0;">September</div>
<div class="t" style="top:1001px;font-size:22.38px;color:#252423;font-weight:bold;right:550.00px;transform:scaleX(0.9550);transform-origin:100% 0;">5,871</div>
<div class="t" style="top:1001px;font-size:22.38px;color:#252423;font-weight:bold;right:425.00px;transform:scaleX(0.9550);transform-origin:100% 0;">6,443</div>
<div class="t" style="top:1001px;font-size:22.38px;color:#252423;font-weight:bold;right:286.00px;transform:scaleX(0.9550);transform-origin:100% 0;"><span style="letter-spacing:2.2px">-</span>572</div>
<div class="t" style="top:1001px;font-size:22.38px;color:#252423;font-weight:bold;right:139.00px;transform:scaleX(0.9550);transform-origin:100% 0;"><span style="letter-spacing:2.2px">-</span>9.75%</div>
<div style="left:1619.50px;top:1025.74px;width:812.70px;height:30.26px;background:#ebf0df;"></div>
<div style="left:1619.50px;top:1055.00px;width:277.50px;height:1.00px;background:#d5dac8;"></div>
<div style="left:1898.00px;top:1055.00px;width:534.20px;height:1.00px;background:#dde2d0;"></div>
<div style="left:2019.80px;top:1025.74px;width:1.00px;height:30.26px;background:#dfe4d3;"></div>
<div style="left:2144.80px;top:1025.74px;width:1.00px;height:30.26px;background:#dfe4d3;"></div>
<div style="left:2284.50px;top:1025.74px;width:1.00px;height:30.26px;background:#dfe4d3;"></div>
<div style="left:1629.8px;top:1029.6399999999999px;width:17px;height:17px;border:2px solid #858a7e;box-sizing:border-box;"></div>
<div style="left:1633.80px;top:1037.14px;width:9.00px;height:2.00px;background:#858a7e;"></div>
<div style="left:1637.30px;top:1033.64px;width:2.00px;height:9.00px;background:#858a7e;"></div>
<div class="t" style="top:1032px;font-size:22.38px;color:#252423;font-weight:bold;left:1664.80px;transform:scaleX(0.9500);transform-origin:0 0;">October</div>
<div class="t" style="top:1032px;font-size:22.38px;color:#252423;font-weight:bold;right:550.00px;transform:scaleX(0.9550);transform-origin:100% 0;">5,964</div>
<div class="t" style="top:1032px;font-size:22.38px;color:#252423;font-weight:bold;right:425.00px;transform:scaleX(0.9550);transform-origin:100% 0;">4,722</div>
<div class="t" style="top:1032px;font-size:22.38px;color:#252423;font-weight:bold;right:286.00px;transform:scaleX(0.9550);transform-origin:100% 0;">1,241</div>
<div class="t" style="top:1032px;font-size:22.38px;color:#252423;font-weight:bold;right:139.00px;transform:scaleX(0.9550);transform-origin:100% 0;">20.81%</div>
<div style="left:1619.50px;top:1056.00px;width:812.70px;height:30.26px;background:#ebf0df;"></div>
<div style="left:1619.50px;top:1085.26px;width:277.50px;height:1.00px;background:#d5dac8;"></div>
<div style="left:1898.00px;top:1085.26px;width:534.20px;height:1.00px;background:#dde2d0;"></div>
<div style="left:2019.80px;top:1056.00px;width:1.00px;height:30.26px;background:#dfe4d3;"></div>
<div style="left:2144.80px;top:1056.00px;width:1.00px;height:30.26px;background:#dfe4d3;"></div>
<div style="left:2284.50px;top:1056.00px;width:1.00px;height:30.26px;background:#dfe4d3;"></div>
<div style="left:1629.8px;top:1059.8999999999999px;width:17px;height:17px;border:2px solid #858a7e;box-sizing:border-box;"></div>
<div style="left:1633.80px;top:1067.40px;width:9.00px;height:2.00px;background:#858a7e;"></div>
<div class="t" style="top:1062px;font-size:22.38px;color:#252423;font-weight:bold;left:1664.80px;transform:scaleX(0.9500);transform-origin:0 0;">November</div>
<div class="t" style="top:1062px;font-size:22.38px;color:#252423;font-weight:bold;right:550.00px;transform:scaleX(0.9550);transform-origin:100% 0;">5,891</div>
<div class="t" style="top:1062px;font-size:22.38px;color:#252423;font-weight:bold;right:425.00px;transform:scaleX(0.9550);transform-origin:100% 0;">5,443</div>
<div class="t" style="top:1062px;font-size:22.38px;color:#252423;font-weight:bold;right:286.00px;transform:scaleX(0.9550);transform-origin:100% 0;">448</div>
<div class="t" style="top:1062px;font-size:22.38px;color:#252423;font-weight:bold;right:139.00px;transform:scaleX(0.9550);transform-origin:100% 0;">7.61%</div>
<div style="left:1619.50px;top:1086.26px;width:812.70px;height:30.26px;background:#fff;"></div>
<div style="left:1619.50px;top:1115.52px;width:277.50px;height:1.00px;background:#d2d2d2;"></div>
<div style="left:1898.00px;top:1115.52px;width:534.20px;height:1.00px;background:#ececec;"></div>
<div style="left:2019.80px;top:1086.26px;width:1.00px;height:30.26px;background:#eeeeee;"></div>
<div style="left:2144.80px;top:1086.26px;width:1.00px;height:30.26px;background:#eeeeee;"></div>
<div style="left:2284.50px;top:1086.26px;width:1.00px;height:30.26px;background:#eeeeee;"></div>
<div class="t" style="top:1091px;font-size:21.08px;color:#333;-webkit-text-stroke:0.45px #333;letter-spacing:0.6px;left:1680.60px;transform:scaleX(1.0302);transform-origin:0 0;">Berry Blast</div>
<div class="t" style="top:1092px;font-size:20.78px;color:#333;-webkit-text-stroke:0.45px #333;right:550.00px;">485</div>
<div class="t" style="top:1092px;font-size:20.78px;color:#333;-webkit-text-stroke:0.45px #333;right:425.00px;">432</div>
<div class="t" style="top:1092px;font-size:20.78px;color:#333;-webkit-text-stroke:0.45px #333;right:286.00px;">53</div>
<div class="t" style="top:1092px;font-size:20.78px;color:#333;-webkit-text-stroke:0.45px #333;right:139.00px;">11.00%</div>
<div style="left:1619.50px;top:1116.52px;width:812.70px;height:30.26px;background:#fff;"></div>
<div style="left:1619.50px;top:1145.78px;width:277.50px;height:1.00px;background:#d2d2d2;"></div>
<div style="left:1898.00px;top:1145.78px;width:534.20px;height:1.00px;background:#ececec;"></div>
<div style="left:2019.80px;top:1116.52px;width:1.00px;height:30.26px;background:#eeeeee;"></div>
<div style="left:2144.80px;top:1116.52px;width:1.00px;height:30.26px;background:#eeeeee;"></div>
<div style="left:2284.50px;top:1116.52px;width:1.00px;height:30.26px;background:#eeeeee;"></div>
<div class="t" style="top:1121px;font-size:21.08px;color:#333;-webkit-text-stroke:0.45px #333;letter-spacing:0.6px;left:1680.60px;transform:scaleX(0.9764);transform-origin:0 0;">Bomb Banana</div>
<div class="t" style="top:1122px;font-size:20.78px;color:#333;-webkit-text-stroke:0.45px #333;right:550.00px;">488</div>
<div class="t" style="top:1122px;font-size:20.78px;color:#333;-webkit-text-stroke:0.45px #333;right:425.00px;">339</div>
<div class="t" style="top:1122px;font-size:20.78px;color:#333;-webkit-text-stroke:0.45px #333;right:286.00px;">149</div>
<div class="t" style="top:1122px;font-size:20.78px;color:#333;-webkit-text-stroke:0.45px #333;right:139.00px;">30.52%</div>
<div style="left:1619.50px;top:1146.78px;width:812.70px;height:30.26px;background:#fff;"></div>
<div style="left:1619.50px;top:1176.04px;width:277.50px;height:1.00px;background:#d2d2d2;"></div>
<div style="left:1898.00px;top:1176.04px;width:534.20px;height:1.00px;background:#ececec;"></div>
<div style="left:2019.80px;top:1146.78px;width:1.00px;height:30.26px;background:#eeeeee;"></div>
<div style="left:2144.80px;top:1146.78px;width:1.00px;height:30.26px;background:#eeeeee;"></div>
<div style="left:2284.50px;top:1146.78px;width:1.00px;height:30.26px;background:#eeeeee;"></div>
<div class="t" style="top:1151px;font-size:21.08px;color:#333;-webkit-text-stroke:0.45px #333;letter-spacing:0.6px;left:1680.60px;transform:scaleX(1.0210);transform-origin:0 0;">Caramel Swirl</div>
<div class="t" style="top:1152px;font-size:20.78px;color:#333;-webkit-text-stroke:0.45px #333;right:550.00px;">122</div>
<div class="t" style="top:1152px;font-size:20.78px;color:#333;-webkit-text-stroke:0.45px #333;right:425.00px;">116</div>
<div class="t" style="top:1152px;font-size:20.78px;color:#333;-webkit-text-stroke:0.45px #333;right:286.00px;">6</div>
<div class="t" style="top:1152px;font-size:20.78px;color:#333;-webkit-text-stroke:0.45px #333;right:139.00px;">5.00%</div>
<div style="left:2295.00px;top:1148.68px;width:26.8px;height:26.8px;border-radius:50%;background:#f8d08a;border:1.6px solid #f5bd62;box-sizing:border-box;"></div>
<div style="left:1619.50px;top:1177.04px;width:812.70px;height:30.26px;background:#fff;"></div>
<div style="left:1619.50px;top:1206.30px;width:277.50px;height:1.00px;background:#d2d2d2;"></div>
<div style="left:1898.00px;top:1206.30px;width:534.20px;height:1.00px;background:#ececec;"></div>
<div style="left:2019.80px;top:1177.04px;width:1.00px;height:30.26px;background:#eeeeee;"></div>
<div style="left:2144.80px;top:1177.04px;width:1.00px;height:30.26px;background:#eeeeee;"></div>
<div style="left:2284.50px;top:1177.04px;width:1.00px;height:30.26px;background:#eeeeee;"></div>
<div class="t" style="top:1181px;font-size:21.08px;color:#333;-webkit-text-stroke:0.45px #333;letter-spacing:0.6px;left:1680.60px;transform:scaleX(0.9851);transform-origin:0 0;">Coconut Cream</div>
<div class="t" style="top:1183px;font-size:20.78px;color:#333;-webkit-text-stroke:0.45px #333;right:550.00px;">112</div>
<div class="t" style="top:1183px;font-size:20.78px;color:#333;-webkit-text-stroke:0.45px #333;right:425.00px;">106</div>
<div class="t" style="top:1183px;font-size:20.78px;color:#333;-webkit-text-stroke:0.45px #333;right:286.00px;">6</div>
<div class="t" style="top:1183px;font-size:20.78px;color:#333;-webkit-text-stroke:0.45px #333;right:139.00px;">5.00%</div>
<div style="left:2295.00px;top:1178.94px;width:26.8px;height:26.8px;border-radius:50%;background:#f8d08a;border:1.6px solid #f5bd62;box-sizing:border-box;"></div>
<div style="left:1619.50px;top:1207.30px;width:812.70px;height:30.26px;background:#fff;"></div>
<div style="left:1619.50px;top:1236.56px;width:277.50px;height:1.00px;background:#d2d2d2;"></div>
<div style="left:1898.00px;top:1236.56px;width:534.20px;height:1.00px;background:#ececec;"></div>
<div style="left:2019.80px;top:1207.30px;width:1.00px;height:30.26px;background:#eeeeee;"></div>
<div style="left:2144.80px;top:1207.30px;width:1.00px;height:30.26px;background:#eeeeee;"></div>
<div style="left:2284.50px;top:1207.30px;width:1.00px;height:30.26px;background:#eeeeee;"></div>
<div class="t" style="top:1212px;font-size:21.08px;color:#333;-webkit-text-stroke:0.45px #333;letter-spacing:0.6px;left:1680.60px;">Coffee Swirl</div>
<div class="t" style="top:1213px;font-size:20.78px;color:#333;-webkit-text-stroke:0.45px #333;right:550.00px;">572</div>
<div class="t" style="top:1213px;font-size:20.78px;color:#333;-webkit-text-stroke:0.45px #333;right:425.00px;">544</div>
<div class="t" style="top:1213px;font-size:20.78px;color:#333;-webkit-text-stroke:0.45px #333;right:286.00px;">29</div>
<div class="t" style="top:1213px;font-size:20.78px;color:#333;-webkit-text-stroke:0.45px #333;right:139.00px;">5.00%</div>
<div style="left:2295.00px;top:1209.20px;width:26.8px;height:26.8px;border-radius:50%;background:#f8d08a;border:1.6px solid #f5bd62;box-sizing:border-box;"></div>
<div style="left:1619.50px;top:1237.56px;width:812.70px;height:30.26px;background:#fff;"></div>
<div style="left:1619.50px;top:1266.82px;width:277.50px;height:1.00px;background:#d2d2d2;"></div>
<div style="left:1898.00px;top:1266.82px;width:534.20px;height:1.00px;background:#ececec;"></div>
<div style="left:2019.80px;top:1237.56px;width:1.00px;height:30.26px;background:#eeeeee;"></div>
<div style="left:2144.80px;top:1237.56px;width:1.00px;height:30.26px;background:#eeeeee;"></div>
<div style="left:2284.50px;top:1237.56px;width:1.00px;height:30.26px;background:#eeeeee;"></div>
<div class="t" style="top:1242px;font-size:21.08px;color:#333;-webkit-text-stroke:0.45px #333;letter-spacing:0.6px;left:1680.60px;transform:scaleX(0.9783);transform-origin:0 0;">Cola Star</div>
<div class="t" style="top:1243px;font-size:20.78px;color:#333;-webkit-text-stroke:0.45px #333;right:550.00px;">126</div>
<div class="t" style="top:1243px;font-size:20.78px;color:#333;-webkit-text-stroke:0.45px #333;right:425.00px;">120</div>
<div class="t" style="top:1243px;font-size:20.78px;color:#333;-webkit-text-stroke:0.45px #333;right:286.00px;">6</div>
<div class="t" style="top:1243px;font-size:20.78px;color:#333;-webkit-text-stroke:0.45px #333;right:139.00px;">5.00%</div>
<div style="left:2295.00px;top:1239.46px;width:26.8px;height:26.8px;border-radius:50%;background:#f8d08a;border:1.6px solid #f5bd62;box-sizing:border-box;"></div>
<div style="left:1619.50px;top:1267.82px;width:812.70px;height:30.26px;background:#fff;"></div>
<div style="left:1619.50px;top:1297.08px;width:277.50px;height:1.00px;background:#d2d2d2;"></div>
<div style="left:1898.00px;top:1297.08px;width:534.20px;height:1.00px;background:#ececec;"></div>
<div style="left:2019.80px;top:1267.82px;width:1.00px;height:30.26px;background:#eeeeee;"></div>
<div style="left:2144.80px;top:1267.82px;width:1.00px;height:30.26px;background:#eeeeee;"></div>
<div style="left:2284.50px;top:1267.82px;width:1.00px;height:30.26px;background:#eeeeee;"></div>
<div class="t" style="top:1272px;font-size:21.08px;color:#333;-webkit-text-stroke:0.45px #333;letter-spacing:0.6px;left:1680.60px;transform:scaleX(1.0127);transform-origin:0 0;">Fudge Swirl</div>
<div class="t" style="top:1273px;font-size:20.78px;color:#333;-webkit-text-stroke:0.45px #333;right:550.00px;">668</div>
<div class="t" style="top:1273px;font-size:20.78px;color:#333;-webkit-text-stroke:0.45px #333;right:425.00px;">635</div>
<div class="t" style="top:1273px;font-size:20.78px;color:#333;-webkit-text-stroke:0.45px #333;right:286.00px;">33</div>
<div class="t" style="top:1273px;font-size:20.78px;color:#333;-webkit-text-stroke:0.45px #333;right:139.00px;">5.00%</div>
<div style="left:2295.00px;top:1269.72px;width:26.8px;height:26.8px;border-radius:50%;background:#f8d08a;border:1.6px solid #f5bd62;box-sizing:border-box;"></div>
<div style="left:1619.50px;top:1298.08px;width:812.70px;height:30.26px;background:#fff;"></div>
<div style="left:1619.50px;top:1327.34px;width:277.50px;height:1.00px;background:#d2d2d2;"></div>
<div style="left:1898.00px;top:1327.34px;width:534.20px;height:1.00px;background:#ececec;"></div>
<div style="left:2019.80px;top:1298.08px;width:1.00px;height:30.26px;background:#eeeeee;"></div>
<div style="left:2144.80px;top:1298.08px;width:1.00px;height:30.26px;background:#eeeeee;"></div>
<div style="left:2284.50px;top:1298.08px;width:1.00px;height:30.26px;background:#eeeeee;"></div>
<div class="t" style="top:1302px;font-size:21.08px;color:#333;-webkit-text-stroke:0.45px #333;letter-spacing:0.6px;left:1680.60px;transform:scaleX(1.0352);transform-origin:0 0;">Lemon Swirl</div>
<div class="t" style="top:1304px;font-size:20.78px;color:#333;-webkit-text-stroke:0.45px #333;right:550.00px;">564</div>
<div class="t" style="top:1304px;font-size:20.78px;color:#333;-webkit-text-stroke:0.45px #333;right:425.00px;">537</div>
<div class="t" style="top:1304px;font-size:20.78px;color:#333;-webkit-text-stroke:0.45px #333;right:286.00px;">28</div>
<div class="t" style="top:1304px;font-size:20.78px;color:#333;-webkit-text-stroke:0.45px #333;right:139.00px;">5.00%</div>
<div style="left:2295.00px;top:1299.98px;width:26.8px;height:26.8px;border-radius:50%;background:#f8d08a;border:1.6px solid #f5bd62;box-sizing:border-box;"></div>
</div></div>
<div style="left:1897.10px;top:299.00px;width:2.00px;height:1008.00px;background:#333f22;"></div>
<div style="left:1619.50px;top:1307.00px;width:812.70px;height:28.70px;background:#29341a;"></div>
<div style="left:1897.00px;top:1307.00px;width:1.00px;height:28.70px;background:#3a4a28;"></div>
<div style="left:2019.80px;top:1307.00px;width:1.00px;height:28.70px;background:#3a4a28;"></div>
<div style="left:2144.80px;top:1307.00px;width:1.00px;height:28.70px;background:#3a4a28;"></div>
<div style="left:2284.50px;top:1307.00px;width:1.00px;height:28.70px;background:#3a4a28;"></div>
<div class="t" style="top:1311px;font-size:22.09px;color:#fff;font-weight:bold;left:1664.80px;transform:scaleX(0.9388);transform-origin:0 0;">Total</div>
<div class="t" style="top:1311px;font-size:22.09px;color:#fff;font-weight:bold;right:550.00px;transform:scaleX(0.9550);transform-origin:100% 0;">69,061</div>
<div class="t" style="top:1311px;font-size:22.09px;color:#fff;font-weight:bold;right:425.00px;transform:scaleX(0.9550);transform-origin:100% 0;">48,635</div>
<div class="t" style="top:1311px;font-size:22.09px;color:#fff;font-weight:bold;right:286.00px;transform:scaleX(0.9550);transform-origin:100% 0;">20,426</div>
<div class="t" style="top:1311px;font-size:22.09px;color:#fff;font-weight:bold;right:139.00px;transform:scaleX(0.9550);transform-origin:100% 0;">29.58%</div>
<div style="left:46.00px;top:1396.20px;width:27.00px;height:2.00px;background:#605e5c;"></div>
<div style="left:46.00px;top:1403.20px;width:27.00px;height:2.00px;background:#605e5c;"></div>
<div style="left:46.00px;top:1410.20px;width:27.00px;height:2.00px;background:#605e5c;"></div>
<div class="t" style="top:1393px;font-size:22.53px;color:#605e5c;left:90.00px;transform:scaleX(0.9818);transform-origin:0 0;">Show Navigation</div>
<svg style="left:308px;top:1387px" width="32" height="32" fill="none" stroke="#605e5c" stroke-width="1.8"><path d="M3 27 L12 18 M5 18 H12 V25"/><path d="M27.5 3 L18.5 12 M18.5 5 V12 H25.5"/></svg>
<div class="t" style="top:1390px;font-size:22.67px;color:#605e5c;left:2152.00px;transform:scaleX(0.9954);transform-origin:0 0;">Manufacturing</div>
<div style="left:2311.00px;top:1387.00px;width:2.00px;height:28.00px;background:#605e5c;"></div>
<div class="t" style="top:1390px;font-size:22.67px;color:#605e5c;left:2329.00px;">Data updated 8/11/20</div>
<svg style="left:2524px;top:26px" width="20" height="26" fill="none" stroke="#3a3a3a" stroke-width="1.6"><path d="M15 4 L5 12.5 L15 21"/></svg>
<svg style="left:2526px;top:97px" width="26" height="28" fill="none" stroke="#444" stroke-width="1.5" stroke-linejoin="round"><path d="M20.5 4 V23 L11.5 15.6 H4.5 V11.4 H11.5 Z"/></svg>
<div class="t" style="left:2528.2px;top:139.8px;font-size:26.5px;color:#252423;-webkit-text-stroke:0.7px #252423;transform-origin:0 0;transform:translate(19.5px,0) rotate(90deg) scaleX(0.97)">Filters</div>
<svg style="left:2280px;top:20px" width="160" height="84" viewBox="2280 20 160 84">
<path d="M2340.5 49.8 L2392.8 25.4 L2378.2 54.6 Q2366 45.5 2340.5 49.8 Z" fill="#1a71b8"/>
<path d="M2393.2 25.4 L2418 53.9 Q2398 48.5 2380.6 54.3 Z" fill="#97cc48"/>
<g fill="none" stroke="#111" stroke-width="4.4" stroke-linecap="round" stroke-linejoin="round">
<path d="M2300.4 70 C2299 67.6 2297 66.6 2294.4 66.6 C2291 66.6 2289.2 69 2289.2 72 C2289.2 75.5 2291.5 77 2294.6 78.4 C2298 80 2299.8 81.5 2299.8 84.8 C2299.8 88 2297.5 90.4 2294.2 90.4 C2291 90.4 2289 88.8 2287.8 86.2"/>
<circle cx="2322" cy="78.5" r="12"/>
<path d="M2343.6 62 V90.2"/>
<path d="M2353.6 67.5 L2363.2 89.5 L2372.6 67.5"/>
<path d="M2381 77.5 H2403.5 Q2403 66.5 2392.2 66.5 Q2381 67 2381 78.5 Q2381 90.5 2392.5 90.5 Q2400 90.5 2403 84"/>
<path d="M2414 67.5 V90.2 M2414 74 Q2416 66.5 2422.8 67.8"/>
</g></svg>
</div></div></body></html>
